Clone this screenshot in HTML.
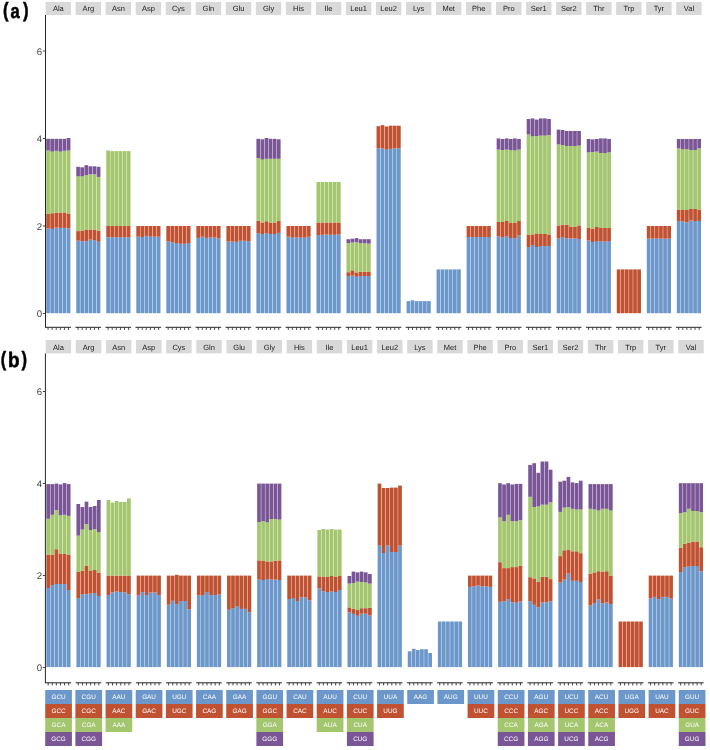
<!DOCTYPE html>
<html><head><meta charset="utf-8"><title>RSCU</title>
<style>
html,body{margin:0;padding:0;background:#fff;}
body{width:710px;height:750px;overflow:hidden;}
svg{display:block;}
text{font-family:"Liberation Sans",sans-serif;text-rendering:geometricPrecision;}
.st{font-size:7.5px;fill:#1a1a1a;text-anchor:middle;}
.yt{font-size:9.6px;fill:#444444;text-anchor:end;}
.cd{font-size:6.4px;fill:#ffffff;text-anchor:middle;}
.lab{font-size:22.5px;font-weight:bold;fill:#000;stroke:#000;stroke-width:0.55px;stroke-linejoin:round;}
.ax{stroke:#262626;stroke-width:1.0;}
.tk{stroke:#333;stroke-width:0.9;}
</style></head><body>
<svg width="710" height="750" viewBox="0 0 710 750" style="will-change:transform">
<rect width="710" height="750" fill="#ffffff"/>
<rect x="45.6" y="2" width="25.4" height="13" fill="#d9d9d9"/>
<text x="58.3" y="11.3" class="st">Ala</text>
<rect x="46.21" y="228.4" width="3.69" height="84.8" fill="#6c97ca"/>
<rect x="46.21" y="214" width="3.69" height="14.4" fill="#c05232"/>
<rect x="46.21" y="150.5" width="3.69" height="63.5" fill="#a3c66e"/>
<rect x="46.21" y="138.8" width="3.69" height="11.7" fill="#7a5696"/>
<rect x="50.31" y="228.9" width="3.69" height="84.3" fill="#6c97ca"/>
<rect x="50.31" y="213.2" width="3.69" height="15.7" fill="#c05232"/>
<rect x="50.31" y="151.6" width="3.69" height="61.6" fill="#a3c66e"/>
<rect x="50.31" y="138.8" width="3.69" height="12.8" fill="#7a5696"/>
<rect x="54.41" y="227.6" width="3.69" height="85.6" fill="#6c97ca"/>
<rect x="54.41" y="212.9" width="3.69" height="14.7" fill="#c05232"/>
<rect x="54.41" y="150.8" width="3.69" height="62.1" fill="#a3c66e"/>
<rect x="54.41" y="138.8" width="3.69" height="12" fill="#7a5696"/>
<rect x="58.5" y="227.9" width="3.69" height="85.3" fill="#6c97ca"/>
<rect x="58.5" y="212.9" width="3.69" height="15" fill="#c05232"/>
<rect x="58.5" y="151.6" width="3.69" height="61.3" fill="#a3c66e"/>
<rect x="58.5" y="138.8" width="3.69" height="12.8" fill="#7a5696"/>
<rect x="62.6" y="227.9" width="3.69" height="85.3" fill="#6c97ca"/>
<rect x="62.6" y="212.4" width="3.69" height="15.5" fill="#c05232"/>
<rect x="62.6" y="150.8" width="3.69" height="61.6" fill="#a3c66e"/>
<rect x="62.6" y="138.8" width="3.69" height="12" fill="#7a5696"/>
<rect x="66.7" y="228.4" width="3.69" height="84.8" fill="#6c97ca"/>
<rect x="66.7" y="214" width="3.69" height="14.4" fill="#c05232"/>
<rect x="66.7" y="150.5" width="3.69" height="63.5" fill="#a3c66e"/>
<rect x="66.7" y="138" width="3.69" height="12.5" fill="#7a5696"/>
<line x1="45.4" y1="327.3" x2="71" y2="327.3" class="ax"/>
<line x1="48.06" y1="327.3" x2="48.06" y2="329.9" class="tk"/>
<line x1="52.15" y1="327.3" x2="52.15" y2="329.9" class="tk"/>
<line x1="56.25" y1="327.3" x2="56.25" y2="329.9" class="tk"/>
<line x1="60.35" y1="327.3" x2="60.35" y2="329.9" class="tk"/>
<line x1="64.45" y1="327.3" x2="64.45" y2="329.9" class="tk"/>
<line x1="68.54" y1="327.3" x2="68.54" y2="329.9" class="tk"/>
<rect x="75.63" y="2" width="25.4" height="13" fill="#d9d9d9"/>
<text x="88.33" y="11.3" class="st">Arg</text>
<rect x="76.24" y="240.7" width="3.69" height="72.5" fill="#6c97ca"/>
<rect x="76.24" y="231.1" width="3.69" height="9.6" fill="#c05232"/>
<rect x="76.24" y="176.4" width="3.69" height="54.7" fill="#a3c66e"/>
<rect x="76.24" y="166.8" width="3.69" height="9.6" fill="#7a5696"/>
<rect x="80.34" y="241.2" width="3.69" height="72" fill="#6c97ca"/>
<rect x="80.34" y="230.5" width="3.69" height="10.7" fill="#c05232"/>
<rect x="80.34" y="176.4" width="3.69" height="54.1" fill="#a3c66e"/>
<rect x="80.34" y="167.3" width="3.69" height="9.1" fill="#7a5696"/>
<rect x="84.44" y="241.2" width="3.69" height="72" fill="#6c97ca"/>
<rect x="84.44" y="229.5" width="3.69" height="11.7" fill="#c05232"/>
<rect x="84.44" y="175.1" width="3.69" height="54.4" fill="#a3c66e"/>
<rect x="84.44" y="165.2" width="3.69" height="9.9" fill="#7a5696"/>
<rect x="88.53" y="239.6" width="3.69" height="73.6" fill="#6c97ca"/>
<rect x="88.53" y="229.5" width="3.69" height="10.1" fill="#c05232"/>
<rect x="88.53" y="174.3" width="3.69" height="55.2" fill="#a3c66e"/>
<rect x="88.53" y="166.3" width="3.69" height="8" fill="#7a5696"/>
<rect x="92.63" y="240.1" width="3.69" height="73.1" fill="#6c97ca"/>
<rect x="92.63" y="229.5" width="3.69" height="10.6" fill="#c05232"/>
<rect x="92.63" y="174.3" width="3.69" height="55.2" fill="#a3c66e"/>
<rect x="92.63" y="166.3" width="3.69" height="8" fill="#7a5696"/>
<rect x="96.73" y="241.7" width="3.69" height="71.5" fill="#6c97ca"/>
<rect x="96.73" y="230.8" width="3.69" height="10.9" fill="#c05232"/>
<rect x="96.73" y="176.9" width="3.69" height="53.9" fill="#a3c66e"/>
<rect x="96.73" y="166.8" width="3.69" height="10.1" fill="#7a5696"/>
<line x1="75.43" y1="327.3" x2="101.03" y2="327.3" class="ax"/>
<line x1="78.09" y1="327.3" x2="78.09" y2="329.9" class="tk"/>
<line x1="82.18" y1="327.3" x2="82.18" y2="329.9" class="tk"/>
<line x1="86.28" y1="327.3" x2="86.28" y2="329.9" class="tk"/>
<line x1="90.38" y1="327.3" x2="90.38" y2="329.9" class="tk"/>
<line x1="94.48" y1="327.3" x2="94.48" y2="329.9" class="tk"/>
<line x1="98.57" y1="327.3" x2="98.57" y2="329.9" class="tk"/>
<rect x="105.66" y="2" width="25.4" height="13" fill="#d9d9d9"/>
<text x="118.36" y="11.3" class="st">Asn</text>
<rect x="106.27" y="237.2" width="3.69" height="76" fill="#6c97ca"/>
<rect x="106.27" y="226" width="3.69" height="11.2" fill="#c05232"/>
<rect x="106.27" y="150.5" width="3.69" height="75.5" fill="#a3c66e"/>
<rect x="110.37" y="237.2" width="3.69" height="76" fill="#6c97ca"/>
<rect x="110.37" y="226" width="3.69" height="11.2" fill="#c05232"/>
<rect x="110.37" y="151.1" width="3.69" height="74.9" fill="#a3c66e"/>
<rect x="114.47" y="237.2" width="3.69" height="76" fill="#6c97ca"/>
<rect x="114.47" y="226" width="3.69" height="11.2" fill="#c05232"/>
<rect x="114.47" y="151.1" width="3.69" height="74.9" fill="#a3c66e"/>
<rect x="118.56" y="237.2" width="3.69" height="76" fill="#6c97ca"/>
<rect x="118.56" y="226" width="3.69" height="11.2" fill="#c05232"/>
<rect x="118.56" y="151.1" width="3.69" height="74.9" fill="#a3c66e"/>
<rect x="122.66" y="237.2" width="3.69" height="76" fill="#6c97ca"/>
<rect x="122.66" y="226" width="3.69" height="11.2" fill="#c05232"/>
<rect x="122.66" y="151.1" width="3.69" height="74.9" fill="#a3c66e"/>
<rect x="126.76" y="237.2" width="3.69" height="76" fill="#6c97ca"/>
<rect x="126.76" y="226" width="3.69" height="11.2" fill="#c05232"/>
<rect x="126.76" y="151.1" width="3.69" height="74.9" fill="#a3c66e"/>
<line x1="105.46" y1="327.3" x2="131.06" y2="327.3" class="ax"/>
<line x1="108.12" y1="327.3" x2="108.12" y2="329.9" class="tk"/>
<line x1="112.21" y1="327.3" x2="112.21" y2="329.9" class="tk"/>
<line x1="116.31" y1="327.3" x2="116.31" y2="329.9" class="tk"/>
<line x1="120.41" y1="327.3" x2="120.41" y2="329.9" class="tk"/>
<line x1="124.51" y1="327.3" x2="124.51" y2="329.9" class="tk"/>
<line x1="128.6" y1="327.3" x2="128.6" y2="329.9" class="tk"/>
<rect x="135.69" y="2" width="25.4" height="13" fill="#d9d9d9"/>
<text x="148.39" y="11.3" class="st">Asp</text>
<rect x="136.3" y="236.7" width="3.69" height="76.5" fill="#6c97ca"/>
<rect x="136.3" y="226" width="3.69" height="10.7" fill="#c05232"/>
<rect x="140.4" y="237" width="3.69" height="76.2" fill="#6c97ca"/>
<rect x="140.4" y="226" width="3.69" height="11" fill="#c05232"/>
<rect x="144.5" y="235.9" width="3.69" height="77.3" fill="#6c97ca"/>
<rect x="144.5" y="226" width="3.69" height="9.9" fill="#c05232"/>
<rect x="148.59" y="236.7" width="3.69" height="76.5" fill="#6c97ca"/>
<rect x="148.59" y="226" width="3.69" height="10.7" fill="#c05232"/>
<rect x="152.69" y="236.7" width="3.69" height="76.5" fill="#6c97ca"/>
<rect x="152.69" y="226" width="3.69" height="10.7" fill="#c05232"/>
<rect x="156.79" y="236.7" width="3.69" height="76.5" fill="#6c97ca"/>
<rect x="156.79" y="226" width="3.69" height="10.7" fill="#c05232"/>
<line x1="135.49" y1="327.3" x2="161.09" y2="327.3" class="ax"/>
<line x1="138.15" y1="327.3" x2="138.15" y2="329.9" class="tk"/>
<line x1="142.24" y1="327.3" x2="142.24" y2="329.9" class="tk"/>
<line x1="146.34" y1="327.3" x2="146.34" y2="329.9" class="tk"/>
<line x1="150.44" y1="327.3" x2="150.44" y2="329.9" class="tk"/>
<line x1="154.54" y1="327.3" x2="154.54" y2="329.9" class="tk"/>
<line x1="158.63" y1="327.3" x2="158.63" y2="329.9" class="tk"/>
<rect x="165.72" y="2" width="25.4" height="13" fill="#d9d9d9"/>
<text x="178.42" y="11.3" class="st">Cys</text>
<rect x="166.33" y="241.6" width="3.69" height="71.6" fill="#6c97ca"/>
<rect x="166.33" y="226" width="3.69" height="15.6" fill="#c05232"/>
<rect x="170.43" y="242.3" width="3.69" height="70.9" fill="#6c97ca"/>
<rect x="170.43" y="226" width="3.69" height="16.3" fill="#c05232"/>
<rect x="174.53" y="243" width="3.69" height="70.2" fill="#6c97ca"/>
<rect x="174.53" y="226" width="3.69" height="17" fill="#c05232"/>
<rect x="178.62" y="243.8" width="3.69" height="69.4" fill="#6c97ca"/>
<rect x="178.62" y="226" width="3.69" height="17.8" fill="#c05232"/>
<rect x="182.72" y="243.8" width="3.69" height="69.4" fill="#6c97ca"/>
<rect x="182.72" y="226" width="3.69" height="17.8" fill="#c05232"/>
<rect x="186.82" y="243" width="3.69" height="70.2" fill="#6c97ca"/>
<rect x="186.82" y="226" width="3.69" height="17" fill="#c05232"/>
<line x1="165.52" y1="327.3" x2="191.12" y2="327.3" class="ax"/>
<line x1="168.18" y1="327.3" x2="168.18" y2="329.9" class="tk"/>
<line x1="172.27" y1="327.3" x2="172.27" y2="329.9" class="tk"/>
<line x1="176.37" y1="327.3" x2="176.37" y2="329.9" class="tk"/>
<line x1="180.47" y1="327.3" x2="180.47" y2="329.9" class="tk"/>
<line x1="184.57" y1="327.3" x2="184.57" y2="329.9" class="tk"/>
<line x1="188.66" y1="327.3" x2="188.66" y2="329.9" class="tk"/>
<rect x="195.75" y="2" width="25.4" height="13" fill="#d9d9d9"/>
<text x="208.45" y="11.3" class="st">Gln</text>
<rect x="196.36" y="237.9" width="3.69" height="75.3" fill="#6c97ca"/>
<rect x="196.36" y="226" width="3.69" height="11.9" fill="#c05232"/>
<rect x="200.46" y="236.7" width="3.69" height="76.5" fill="#6c97ca"/>
<rect x="200.46" y="226" width="3.69" height="10.7" fill="#c05232"/>
<rect x="204.56" y="237.9" width="3.69" height="75.3" fill="#6c97ca"/>
<rect x="204.56" y="226" width="3.69" height="11.9" fill="#c05232"/>
<rect x="208.65" y="237.5" width="3.69" height="75.7" fill="#6c97ca"/>
<rect x="208.65" y="226" width="3.69" height="11.5" fill="#c05232"/>
<rect x="212.75" y="237.5" width="3.69" height="75.7" fill="#6c97ca"/>
<rect x="212.75" y="226" width="3.69" height="11.5" fill="#c05232"/>
<rect x="216.85" y="238.4" width="3.69" height="74.8" fill="#6c97ca"/>
<rect x="216.85" y="226" width="3.69" height="12.4" fill="#c05232"/>
<line x1="195.55" y1="327.3" x2="221.15" y2="327.3" class="ax"/>
<line x1="198.21" y1="327.3" x2="198.21" y2="329.9" class="tk"/>
<line x1="202.3" y1="327.3" x2="202.3" y2="329.9" class="tk"/>
<line x1="206.4" y1="327.3" x2="206.4" y2="329.9" class="tk"/>
<line x1="210.5" y1="327.3" x2="210.5" y2="329.9" class="tk"/>
<line x1="214.6" y1="327.3" x2="214.6" y2="329.9" class="tk"/>
<line x1="218.69" y1="327.3" x2="218.69" y2="329.9" class="tk"/>
<rect x="225.78" y="2" width="25.4" height="13" fill="#d9d9d9"/>
<text x="238.48" y="11.3" class="st">Glu</text>
<rect x="226.39" y="241.6" width="3.69" height="71.6" fill="#6c97ca"/>
<rect x="226.39" y="226" width="3.69" height="15.6" fill="#c05232"/>
<rect x="230.49" y="241.6" width="3.69" height="71.6" fill="#6c97ca"/>
<rect x="230.49" y="226" width="3.69" height="15.6" fill="#c05232"/>
<rect x="234.59" y="241.9" width="3.69" height="71.3" fill="#6c97ca"/>
<rect x="234.59" y="226" width="3.69" height="15.9" fill="#c05232"/>
<rect x="238.68" y="240.8" width="3.69" height="72.4" fill="#6c97ca"/>
<rect x="238.68" y="226" width="3.69" height="14.8" fill="#c05232"/>
<rect x="242.78" y="240.8" width="3.69" height="72.4" fill="#6c97ca"/>
<rect x="242.78" y="226" width="3.69" height="14.8" fill="#c05232"/>
<rect x="246.88" y="241.3" width="3.69" height="71.9" fill="#6c97ca"/>
<rect x="246.88" y="226" width="3.69" height="15.3" fill="#c05232"/>
<line x1="225.58" y1="327.3" x2="251.18" y2="327.3" class="ax"/>
<line x1="228.24" y1="327.3" x2="228.24" y2="329.9" class="tk"/>
<line x1="232.33" y1="327.3" x2="232.33" y2="329.9" class="tk"/>
<line x1="236.43" y1="327.3" x2="236.43" y2="329.9" class="tk"/>
<line x1="240.53" y1="327.3" x2="240.53" y2="329.9" class="tk"/>
<line x1="244.63" y1="327.3" x2="244.63" y2="329.9" class="tk"/>
<line x1="248.72" y1="327.3" x2="248.72" y2="329.9" class="tk"/>
<rect x="255.81" y="2" width="25.4" height="13" fill="#d9d9d9"/>
<text x="268.51" y="11.3" class="st">Gly</text>
<rect x="256.42" y="233.2" width="3.69" height="80" fill="#6c97ca"/>
<rect x="256.42" y="220.9" width="3.69" height="12.3" fill="#c05232"/>
<rect x="256.42" y="158" width="3.69" height="62.9" fill="#a3c66e"/>
<rect x="256.42" y="138.8" width="3.69" height="19.2" fill="#7a5696"/>
<rect x="260.52" y="234" width="3.69" height="79.2" fill="#6c97ca"/>
<rect x="260.52" y="222.5" width="3.69" height="11.5" fill="#c05232"/>
<rect x="260.52" y="159.6" width="3.69" height="62.9" fill="#a3c66e"/>
<rect x="260.52" y="139.3" width="3.69" height="20.3" fill="#7a5696"/>
<rect x="264.62" y="233.2" width="3.69" height="80" fill="#6c97ca"/>
<rect x="264.62" y="221.2" width="3.69" height="12" fill="#c05232"/>
<rect x="264.62" y="158.8" width="3.69" height="62.4" fill="#a3c66e"/>
<rect x="264.62" y="138" width="3.69" height="20.8" fill="#7a5696"/>
<rect x="268.71" y="234" width="3.69" height="79.2" fill="#6c97ca"/>
<rect x="268.71" y="222.5" width="3.69" height="11.5" fill="#c05232"/>
<rect x="268.71" y="158.8" width="3.69" height="63.7" fill="#a3c66e"/>
<rect x="268.71" y="138.8" width="3.69" height="20" fill="#7a5696"/>
<rect x="272.81" y="234" width="3.69" height="79.2" fill="#6c97ca"/>
<rect x="272.81" y="222.5" width="3.69" height="11.5" fill="#c05232"/>
<rect x="272.81" y="158.8" width="3.69" height="63.7" fill="#a3c66e"/>
<rect x="272.81" y="138.8" width="3.69" height="20" fill="#7a5696"/>
<rect x="276.91" y="232.9" width="3.69" height="80.3" fill="#6c97ca"/>
<rect x="276.91" y="220.9" width="3.69" height="12" fill="#c05232"/>
<rect x="276.91" y="158.8" width="3.69" height="62.1" fill="#a3c66e"/>
<rect x="276.91" y="139.3" width="3.69" height="19.5" fill="#7a5696"/>
<line x1="255.61" y1="327.3" x2="281.21" y2="327.3" class="ax"/>
<line x1="258.27" y1="327.3" x2="258.27" y2="329.9" class="tk"/>
<line x1="262.36" y1="327.3" x2="262.36" y2="329.9" class="tk"/>
<line x1="266.46" y1="327.3" x2="266.46" y2="329.9" class="tk"/>
<line x1="270.56" y1="327.3" x2="270.56" y2="329.9" class="tk"/>
<line x1="274.66" y1="327.3" x2="274.66" y2="329.9" class="tk"/>
<line x1="278.75" y1="327.3" x2="278.75" y2="329.9" class="tk"/>
<rect x="285.84" y="2" width="25.4" height="13" fill="#d9d9d9"/>
<text x="298.54" y="11.3" class="st">His</text>
<rect x="286.45" y="236.7" width="3.69" height="76.5" fill="#6c97ca"/>
<rect x="286.45" y="226" width="3.69" height="10.7" fill="#c05232"/>
<rect x="290.55" y="237.7" width="3.69" height="75.5" fill="#6c97ca"/>
<rect x="290.55" y="226" width="3.69" height="11.7" fill="#c05232"/>
<rect x="294.65" y="237.2" width="3.69" height="76" fill="#6c97ca"/>
<rect x="294.65" y="226" width="3.69" height="11.2" fill="#c05232"/>
<rect x="298.74" y="237.7" width="3.69" height="75.5" fill="#6c97ca"/>
<rect x="298.74" y="226" width="3.69" height="11.7" fill="#c05232"/>
<rect x="302.84" y="237.7" width="3.69" height="75.5" fill="#6c97ca"/>
<rect x="302.84" y="226" width="3.69" height="11.7" fill="#c05232"/>
<rect x="306.94" y="236.7" width="3.69" height="76.5" fill="#6c97ca"/>
<rect x="306.94" y="226" width="3.69" height="10.7" fill="#c05232"/>
<line x1="285.64" y1="327.3" x2="311.24" y2="327.3" class="ax"/>
<line x1="288.3" y1="327.3" x2="288.3" y2="329.9" class="tk"/>
<line x1="292.39" y1="327.3" x2="292.39" y2="329.9" class="tk"/>
<line x1="296.49" y1="327.3" x2="296.49" y2="329.9" class="tk"/>
<line x1="300.59" y1="327.3" x2="300.59" y2="329.9" class="tk"/>
<line x1="304.69" y1="327.3" x2="304.69" y2="329.9" class="tk"/>
<line x1="308.78" y1="327.3" x2="308.78" y2="329.9" class="tk"/>
<rect x="315.87" y="2" width="25.4" height="13" fill="#d9d9d9"/>
<text x="328.57" y="11.3" class="st">Ile</text>
<rect x="316.48" y="235.1" width="3.69" height="78.1" fill="#6c97ca"/>
<rect x="316.48" y="222.5" width="3.69" height="12.6" fill="#c05232"/>
<rect x="316.48" y="182" width="3.69" height="40.5" fill="#a3c66e"/>
<rect x="320.58" y="234.8" width="3.69" height="78.4" fill="#6c97ca"/>
<rect x="320.58" y="222.5" width="3.69" height="12.3" fill="#c05232"/>
<rect x="320.58" y="182" width="3.69" height="40.5" fill="#a3c66e"/>
<rect x="324.68" y="234.5" width="3.69" height="78.7" fill="#6c97ca"/>
<rect x="324.68" y="222.5" width="3.69" height="12" fill="#c05232"/>
<rect x="324.68" y="182" width="3.69" height="40.5" fill="#a3c66e"/>
<rect x="328.77" y="234.8" width="3.69" height="78.4" fill="#6c97ca"/>
<rect x="328.77" y="222.5" width="3.69" height="12.3" fill="#c05232"/>
<rect x="328.77" y="182" width="3.69" height="40.5" fill="#a3c66e"/>
<rect x="332.87" y="234.8" width="3.69" height="78.4" fill="#6c97ca"/>
<rect x="332.87" y="222.5" width="3.69" height="12.3" fill="#c05232"/>
<rect x="332.87" y="182" width="3.69" height="40.5" fill="#a3c66e"/>
<rect x="336.97" y="234.5" width="3.69" height="78.7" fill="#6c97ca"/>
<rect x="336.97" y="222.5" width="3.69" height="12" fill="#c05232"/>
<rect x="336.97" y="182" width="3.69" height="40.5" fill="#a3c66e"/>
<line x1="315.67" y1="327.3" x2="341.27" y2="327.3" class="ax"/>
<line x1="318.33" y1="327.3" x2="318.33" y2="329.9" class="tk"/>
<line x1="322.42" y1="327.3" x2="322.42" y2="329.9" class="tk"/>
<line x1="326.52" y1="327.3" x2="326.52" y2="329.9" class="tk"/>
<line x1="330.62" y1="327.3" x2="330.62" y2="329.9" class="tk"/>
<line x1="334.72" y1="327.3" x2="334.72" y2="329.9" class="tk"/>
<line x1="338.81" y1="327.3" x2="338.81" y2="329.9" class="tk"/>
<rect x="345.9" y="2" width="25.4" height="13" fill="#d9d9d9"/>
<text x="358.6" y="11.3" class="st">Leu1</text>
<rect x="346.51" y="276" width="3.69" height="37.2" fill="#6c97ca"/>
<rect x="346.51" y="272.2" width="3.69" height="3.8" fill="#c05232"/>
<rect x="346.51" y="243.2" width="3.69" height="29" fill="#a3c66e"/>
<rect x="346.51" y="239.2" width="3.69" height="4" fill="#7a5696"/>
<rect x="350.61" y="275.6" width="3.69" height="37.6" fill="#6c97ca"/>
<rect x="350.61" y="270.3" width="3.69" height="5.3" fill="#c05232"/>
<rect x="350.61" y="242.5" width="3.69" height="27.8" fill="#a3c66e"/>
<rect x="350.61" y="238.7" width="3.69" height="3.8" fill="#7a5696"/>
<rect x="354.71" y="276.8" width="3.69" height="36.4" fill="#6c97ca"/>
<rect x="354.71" y="272.4" width="3.69" height="4.4" fill="#c05232"/>
<rect x="354.71" y="242.1" width="3.69" height="30.3" fill="#a3c66e"/>
<rect x="354.71" y="238.1" width="3.69" height="4" fill="#7a5696"/>
<rect x="358.8" y="276" width="3.69" height="37.2" fill="#6c97ca"/>
<rect x="358.8" y="271.9" width="3.69" height="4.1" fill="#c05232"/>
<rect x="358.8" y="243.2" width="3.69" height="28.7" fill="#a3c66e"/>
<rect x="358.8" y="239.2" width="3.69" height="4" fill="#7a5696"/>
<rect x="362.9" y="276" width="3.69" height="37.2" fill="#6c97ca"/>
<rect x="362.9" y="271.9" width="3.69" height="4.1" fill="#c05232"/>
<rect x="362.9" y="243.2" width="3.69" height="28.7" fill="#a3c66e"/>
<rect x="362.9" y="239.2" width="3.69" height="4" fill="#7a5696"/>
<rect x="367" y="276" width="3.69" height="37.2" fill="#6c97ca"/>
<rect x="367" y="271.9" width="3.69" height="4.1" fill="#c05232"/>
<rect x="367" y="243.6" width="3.69" height="28.3" fill="#a3c66e"/>
<rect x="367" y="239.2" width="3.69" height="4.4" fill="#7a5696"/>
<line x1="345.7" y1="327.3" x2="371.3" y2="327.3" class="ax"/>
<line x1="348.36" y1="327.3" x2="348.36" y2="329.9" class="tk"/>
<line x1="352.45" y1="327.3" x2="352.45" y2="329.9" class="tk"/>
<line x1="356.55" y1="327.3" x2="356.55" y2="329.9" class="tk"/>
<line x1="360.65" y1="327.3" x2="360.65" y2="329.9" class="tk"/>
<line x1="364.75" y1="327.3" x2="364.75" y2="329.9" class="tk"/>
<line x1="368.84" y1="327.3" x2="368.84" y2="329.9" class="tk"/>
<rect x="375.93" y="2" width="25.4" height="13" fill="#d9d9d9"/>
<text x="388.63" y="11.3" class="st">Leu2</text>
<rect x="376.54" y="148.3" width="3.69" height="164.9" fill="#6c97ca"/>
<rect x="376.54" y="126.2" width="3.69" height="22.1" fill="#c05232"/>
<rect x="380.64" y="148.3" width="3.69" height="164.9" fill="#6c97ca"/>
<rect x="380.64" y="125.1" width="3.69" height="23.2" fill="#c05232"/>
<rect x="384.74" y="149.7" width="3.69" height="163.5" fill="#6c97ca"/>
<rect x="384.74" y="126.5" width="3.69" height="23.2" fill="#c05232"/>
<rect x="388.83" y="148.9" width="3.69" height="164.3" fill="#6c97ca"/>
<rect x="388.83" y="125.7" width="3.69" height="23.2" fill="#c05232"/>
<rect x="392.93" y="148.3" width="3.69" height="164.9" fill="#6c97ca"/>
<rect x="392.93" y="125.7" width="3.69" height="22.6" fill="#c05232"/>
<rect x="397.03" y="148.3" width="3.69" height="164.9" fill="#6c97ca"/>
<rect x="397.03" y="125.7" width="3.69" height="22.6" fill="#c05232"/>
<line x1="375.73" y1="327.3" x2="401.33" y2="327.3" class="ax"/>
<line x1="378.39" y1="327.3" x2="378.39" y2="329.9" class="tk"/>
<line x1="382.48" y1="327.3" x2="382.48" y2="329.9" class="tk"/>
<line x1="386.58" y1="327.3" x2="386.58" y2="329.9" class="tk"/>
<line x1="390.68" y1="327.3" x2="390.68" y2="329.9" class="tk"/>
<line x1="394.78" y1="327.3" x2="394.78" y2="329.9" class="tk"/>
<line x1="398.87" y1="327.3" x2="398.87" y2="329.9" class="tk"/>
<rect x="405.96" y="2" width="25.4" height="13" fill="#d9d9d9"/>
<text x="418.66" y="11.3" class="st">Lys</text>
<rect x="406.57" y="301.1" width="3.69" height="12.1" fill="#6c97ca"/>
<rect x="410.67" y="300.3" width="3.69" height="12.9" fill="#6c97ca"/>
<rect x="414.77" y="301.1" width="3.69" height="12.1" fill="#6c97ca"/>
<rect x="418.86" y="301.1" width="3.69" height="12.1" fill="#6c97ca"/>
<rect x="422.96" y="301.1" width="3.69" height="12.1" fill="#6c97ca"/>
<rect x="427.06" y="301.1" width="3.69" height="12.1" fill="#6c97ca"/>
<line x1="405.76" y1="327.3" x2="431.36" y2="327.3" class="ax"/>
<line x1="408.42" y1="327.3" x2="408.42" y2="329.9" class="tk"/>
<line x1="412.51" y1="327.3" x2="412.51" y2="329.9" class="tk"/>
<line x1="416.61" y1="327.3" x2="416.61" y2="329.9" class="tk"/>
<line x1="420.71" y1="327.3" x2="420.71" y2="329.9" class="tk"/>
<line x1="424.81" y1="327.3" x2="424.81" y2="329.9" class="tk"/>
<line x1="428.9" y1="327.3" x2="428.9" y2="329.9" class="tk"/>
<rect x="435.99" y="2" width="25.4" height="13" fill="#d9d9d9"/>
<text x="448.69" y="11.3" class="st">Met</text>
<rect x="436.6" y="269.4" width="3.69" height="43.8" fill="#6c97ca"/>
<rect x="440.7" y="269.4" width="3.69" height="43.8" fill="#6c97ca"/>
<rect x="444.8" y="269.4" width="3.69" height="43.8" fill="#6c97ca"/>
<rect x="448.89" y="269.4" width="3.69" height="43.8" fill="#6c97ca"/>
<rect x="452.99" y="269.4" width="3.69" height="43.8" fill="#6c97ca"/>
<rect x="457.09" y="269.4" width="3.69" height="43.8" fill="#6c97ca"/>
<line x1="435.79" y1="327.3" x2="461.39" y2="327.3" class="ax"/>
<line x1="438.45" y1="327.3" x2="438.45" y2="329.9" class="tk"/>
<line x1="442.54" y1="327.3" x2="442.54" y2="329.9" class="tk"/>
<line x1="446.64" y1="327.3" x2="446.64" y2="329.9" class="tk"/>
<line x1="450.74" y1="327.3" x2="450.74" y2="329.9" class="tk"/>
<line x1="454.84" y1="327.3" x2="454.84" y2="329.9" class="tk"/>
<line x1="458.93" y1="327.3" x2="458.93" y2="329.9" class="tk"/>
<rect x="466.02" y="2" width="25.4" height="13" fill="#d9d9d9"/>
<text x="478.72" y="11.3" class="st">Phe</text>
<rect x="466.63" y="237" width="3.69" height="76.2" fill="#6c97ca"/>
<rect x="466.63" y="226" width="3.69" height="11" fill="#c05232"/>
<rect x="470.73" y="237" width="3.69" height="76.2" fill="#6c97ca"/>
<rect x="470.73" y="226" width="3.69" height="11" fill="#c05232"/>
<rect x="474.83" y="237" width="3.69" height="76.2" fill="#6c97ca"/>
<rect x="474.83" y="226" width="3.69" height="11" fill="#c05232"/>
<rect x="478.92" y="237" width="3.69" height="76.2" fill="#6c97ca"/>
<rect x="478.92" y="226" width="3.69" height="11" fill="#c05232"/>
<rect x="483.02" y="237" width="3.69" height="76.2" fill="#6c97ca"/>
<rect x="483.02" y="226" width="3.69" height="11" fill="#c05232"/>
<rect x="487.12" y="237" width="3.69" height="76.2" fill="#6c97ca"/>
<rect x="487.12" y="226" width="3.69" height="11" fill="#c05232"/>
<line x1="465.82" y1="327.3" x2="491.42" y2="327.3" class="ax"/>
<line x1="468.48" y1="327.3" x2="468.48" y2="329.9" class="tk"/>
<line x1="472.57" y1="327.3" x2="472.57" y2="329.9" class="tk"/>
<line x1="476.67" y1="327.3" x2="476.67" y2="329.9" class="tk"/>
<line x1="480.77" y1="327.3" x2="480.77" y2="329.9" class="tk"/>
<line x1="484.87" y1="327.3" x2="484.87" y2="329.9" class="tk"/>
<line x1="488.96" y1="327.3" x2="488.96" y2="329.9" class="tk"/>
<rect x="496.05" y="2" width="25.4" height="13" fill="#d9d9d9"/>
<text x="508.75" y="11.3" class="st">Pro</text>
<rect x="496.66" y="236.4" width="3.69" height="76.8" fill="#6c97ca"/>
<rect x="496.66" y="222" width="3.69" height="14.4" fill="#c05232"/>
<rect x="496.66" y="149.6" width="3.69" height="72.4" fill="#a3c66e"/>
<rect x="496.66" y="138.4" width="3.69" height="11.2" fill="#7a5696"/>
<rect x="500.76" y="237.6" width="3.69" height="75.6" fill="#6c97ca"/>
<rect x="500.76" y="222" width="3.69" height="15.6" fill="#c05232"/>
<rect x="500.76" y="150" width="3.69" height="72" fill="#a3c66e"/>
<rect x="500.76" y="139" width="3.69" height="11" fill="#7a5696"/>
<rect x="504.86" y="236" width="3.69" height="77.2" fill="#6c97ca"/>
<rect x="504.86" y="221" width="3.69" height="15" fill="#c05232"/>
<rect x="504.86" y="149.6" width="3.69" height="71.4" fill="#a3c66e"/>
<rect x="504.86" y="138.4" width="3.69" height="11.2" fill="#7a5696"/>
<rect x="508.95" y="238" width="3.69" height="75.2" fill="#6c97ca"/>
<rect x="508.95" y="223" width="3.69" height="15" fill="#c05232"/>
<rect x="508.95" y="150" width="3.69" height="73" fill="#a3c66e"/>
<rect x="508.95" y="139" width="3.69" height="11" fill="#7a5696"/>
<rect x="513.05" y="238.4" width="3.69" height="74.8" fill="#6c97ca"/>
<rect x="513.05" y="223" width="3.69" height="15.4" fill="#c05232"/>
<rect x="513.05" y="150.4" width="3.69" height="72.6" fill="#a3c66e"/>
<rect x="513.05" y="138.4" width="3.69" height="12" fill="#7a5696"/>
<rect x="517.15" y="235.6" width="3.69" height="77.6" fill="#6c97ca"/>
<rect x="517.15" y="221" width="3.69" height="14.6" fill="#c05232"/>
<rect x="517.15" y="149.6" width="3.69" height="71.4" fill="#a3c66e"/>
<rect x="517.15" y="139" width="3.69" height="10.6" fill="#7a5696"/>
<line x1="495.85" y1="327.3" x2="521.45" y2="327.3" class="ax"/>
<line x1="498.51" y1="327.3" x2="498.51" y2="329.9" class="tk"/>
<line x1="502.6" y1="327.3" x2="502.6" y2="329.9" class="tk"/>
<line x1="506.7" y1="327.3" x2="506.7" y2="329.9" class="tk"/>
<line x1="510.8" y1="327.3" x2="510.8" y2="329.9" class="tk"/>
<line x1="514.9" y1="327.3" x2="514.9" y2="329.9" class="tk"/>
<line x1="518.99" y1="327.3" x2="518.99" y2="329.9" class="tk"/>
<rect x="526.08" y="2" width="25.4" height="13" fill="#d9d9d9"/>
<text x="538.78" y="11.3" class="st">Ser1</text>
<rect x="526.69" y="247" width="3.69" height="66.2" fill="#6c97ca"/>
<rect x="526.69" y="235" width="3.69" height="12" fill="#c05232"/>
<rect x="526.69" y="134.4" width="3.69" height="100.6" fill="#a3c66e"/>
<rect x="526.69" y="119" width="3.69" height="15.4" fill="#7a5696"/>
<rect x="530.79" y="245" width="3.69" height="68.2" fill="#6c97ca"/>
<rect x="530.79" y="234.4" width="3.69" height="10.6" fill="#c05232"/>
<rect x="530.79" y="136.4" width="3.69" height="98" fill="#a3c66e"/>
<rect x="530.79" y="118.4" width="3.69" height="18" fill="#7a5696"/>
<rect x="534.89" y="247" width="3.69" height="66.2" fill="#6c97ca"/>
<rect x="534.89" y="233.4" width="3.69" height="13.6" fill="#c05232"/>
<rect x="534.89" y="136" width="3.69" height="97.4" fill="#a3c66e"/>
<rect x="534.89" y="119.6" width="3.69" height="16.4" fill="#7a5696"/>
<rect x="538.98" y="246" width="3.69" height="67.2" fill="#6c97ca"/>
<rect x="538.98" y="234" width="3.69" height="12" fill="#c05232"/>
<rect x="538.98" y="135.6" width="3.69" height="98.4" fill="#a3c66e"/>
<rect x="538.98" y="118.4" width="3.69" height="17.2" fill="#7a5696"/>
<rect x="543.08" y="246" width="3.69" height="67.2" fill="#6c97ca"/>
<rect x="543.08" y="234" width="3.69" height="12" fill="#c05232"/>
<rect x="543.08" y="135.6" width="3.69" height="98.4" fill="#a3c66e"/>
<rect x="543.08" y="118.4" width="3.69" height="17.2" fill="#7a5696"/>
<rect x="547.18" y="246" width="3.69" height="67.2" fill="#6c97ca"/>
<rect x="547.18" y="234.4" width="3.69" height="11.6" fill="#c05232"/>
<rect x="547.18" y="135" width="3.69" height="99.4" fill="#a3c66e"/>
<rect x="547.18" y="119" width="3.69" height="16" fill="#7a5696"/>
<line x1="525.88" y1="327.3" x2="551.48" y2="327.3" class="ax"/>
<line x1="528.54" y1="327.3" x2="528.54" y2="329.9" class="tk"/>
<line x1="532.63" y1="327.3" x2="532.63" y2="329.9" class="tk"/>
<line x1="536.73" y1="327.3" x2="536.73" y2="329.9" class="tk"/>
<line x1="540.83" y1="327.3" x2="540.83" y2="329.9" class="tk"/>
<line x1="544.93" y1="327.3" x2="544.93" y2="329.9" class="tk"/>
<line x1="549.02" y1="327.3" x2="549.02" y2="329.9" class="tk"/>
<rect x="556.11" y="2" width="25.4" height="13" fill="#d9d9d9"/>
<text x="568.81" y="11.3" class="st">Ser2</text>
<rect x="556.72" y="238.6" width="3.69" height="74.6" fill="#6c97ca"/>
<rect x="556.72" y="225.4" width="3.69" height="13.2" fill="#c05232"/>
<rect x="556.72" y="144.4" width="3.69" height="81" fill="#a3c66e"/>
<rect x="556.72" y="129.6" width="3.69" height="14.8" fill="#7a5696"/>
<rect x="560.82" y="237" width="3.69" height="76.2" fill="#6c97ca"/>
<rect x="560.82" y="224.6" width="3.69" height="12.4" fill="#c05232"/>
<rect x="560.82" y="145" width="3.69" height="79.6" fill="#a3c66e"/>
<rect x="560.82" y="130" width="3.69" height="15" fill="#7a5696"/>
<rect x="564.92" y="238.4" width="3.69" height="74.8" fill="#6c97ca"/>
<rect x="564.92" y="224.6" width="3.69" height="13.8" fill="#c05232"/>
<rect x="564.92" y="146" width="3.69" height="78.6" fill="#a3c66e"/>
<rect x="564.92" y="131" width="3.69" height="15" fill="#7a5696"/>
<rect x="569.01" y="238.4" width="3.69" height="74.8" fill="#6c97ca"/>
<rect x="569.01" y="227" width="3.69" height="11.4" fill="#c05232"/>
<rect x="569.01" y="146" width="3.69" height="81" fill="#a3c66e"/>
<rect x="569.01" y="131" width="3.69" height="15" fill="#7a5696"/>
<rect x="573.11" y="238.4" width="3.69" height="74.8" fill="#6c97ca"/>
<rect x="573.11" y="227" width="3.69" height="11.4" fill="#c05232"/>
<rect x="573.11" y="146" width="3.69" height="81" fill="#a3c66e"/>
<rect x="573.11" y="131" width="3.69" height="15" fill="#7a5696"/>
<rect x="577.21" y="239" width="3.69" height="74.2" fill="#6c97ca"/>
<rect x="577.21" y="225.4" width="3.69" height="13.6" fill="#c05232"/>
<rect x="577.21" y="145.6" width="3.69" height="79.8" fill="#a3c66e"/>
<rect x="577.21" y="131" width="3.69" height="14.6" fill="#7a5696"/>
<line x1="555.91" y1="327.3" x2="581.51" y2="327.3" class="ax"/>
<line x1="558.57" y1="327.3" x2="558.57" y2="329.9" class="tk"/>
<line x1="562.66" y1="327.3" x2="562.66" y2="329.9" class="tk"/>
<line x1="566.76" y1="327.3" x2="566.76" y2="329.9" class="tk"/>
<line x1="570.86" y1="327.3" x2="570.86" y2="329.9" class="tk"/>
<line x1="574.96" y1="327.3" x2="574.96" y2="329.9" class="tk"/>
<line x1="579.05" y1="327.3" x2="579.05" y2="329.9" class="tk"/>
<rect x="586.14" y="2" width="25.4" height="13" fill="#d9d9d9"/>
<text x="598.84" y="11.3" class="st">Thr</text>
<rect x="586.75" y="240.4" width="3.69" height="72.8" fill="#6c97ca"/>
<rect x="586.75" y="228" width="3.69" height="12.4" fill="#c05232"/>
<rect x="586.75" y="152.4" width="3.69" height="75.6" fill="#a3c66e"/>
<rect x="586.75" y="139" width="3.69" height="13.4" fill="#7a5696"/>
<rect x="590.85" y="242" width="3.69" height="71.2" fill="#6c97ca"/>
<rect x="590.85" y="228.6" width="3.69" height="13.4" fill="#c05232"/>
<rect x="590.85" y="152" width="3.69" height="76.6" fill="#a3c66e"/>
<rect x="590.85" y="139.4" width="3.69" height="12.6" fill="#7a5696"/>
<rect x="594.95" y="241" width="3.69" height="72.2" fill="#6c97ca"/>
<rect x="594.95" y="227" width="3.69" height="14" fill="#c05232"/>
<rect x="594.95" y="151.6" width="3.69" height="75.4" fill="#a3c66e"/>
<rect x="594.95" y="139" width="3.69" height="12.6" fill="#7a5696"/>
<rect x="599.04" y="241.6" width="3.69" height="71.6" fill="#6c97ca"/>
<rect x="599.04" y="228" width="3.69" height="13.6" fill="#c05232"/>
<rect x="599.04" y="153" width="3.69" height="75" fill="#a3c66e"/>
<rect x="599.04" y="138.4" width="3.69" height="14.6" fill="#7a5696"/>
<rect x="603.14" y="241.6" width="3.69" height="71.6" fill="#6c97ca"/>
<rect x="603.14" y="228" width="3.69" height="13.6" fill="#c05232"/>
<rect x="603.14" y="153" width="3.69" height="75" fill="#a3c66e"/>
<rect x="603.14" y="138.4" width="3.69" height="14.6" fill="#7a5696"/>
<rect x="607.24" y="241" width="3.69" height="72.2" fill="#6c97ca"/>
<rect x="607.24" y="228" width="3.69" height="13" fill="#c05232"/>
<rect x="607.24" y="152.4" width="3.69" height="75.6" fill="#a3c66e"/>
<rect x="607.24" y="139" width="3.69" height="13.4" fill="#7a5696"/>
<line x1="585.94" y1="327.3" x2="611.54" y2="327.3" class="ax"/>
<line x1="588.6" y1="327.3" x2="588.6" y2="329.9" class="tk"/>
<line x1="592.69" y1="327.3" x2="592.69" y2="329.9" class="tk"/>
<line x1="596.79" y1="327.3" x2="596.79" y2="329.9" class="tk"/>
<line x1="600.89" y1="327.3" x2="600.89" y2="329.9" class="tk"/>
<line x1="604.99" y1="327.3" x2="604.99" y2="329.9" class="tk"/>
<line x1="609.08" y1="327.3" x2="609.08" y2="329.9" class="tk"/>
<rect x="616.17" y="2" width="25.4" height="13" fill="#d9d9d9"/>
<text x="628.87" y="11.3" class="st">Trp</text>
<rect x="616.78" y="269.4" width="3.69" height="43.8" fill="#c05232"/>
<rect x="620.88" y="269.4" width="3.69" height="43.8" fill="#c05232"/>
<rect x="624.98" y="269.4" width="3.69" height="43.8" fill="#c05232"/>
<rect x="629.07" y="269.4" width="3.69" height="43.8" fill="#c05232"/>
<rect x="633.17" y="269.4" width="3.69" height="43.8" fill="#c05232"/>
<rect x="637.27" y="269.4" width="3.69" height="43.8" fill="#c05232"/>
<line x1="615.97" y1="327.3" x2="641.57" y2="327.3" class="ax"/>
<line x1="618.63" y1="327.3" x2="618.63" y2="329.9" class="tk"/>
<line x1="622.72" y1="327.3" x2="622.72" y2="329.9" class="tk"/>
<line x1="626.82" y1="327.3" x2="626.82" y2="329.9" class="tk"/>
<line x1="630.92" y1="327.3" x2="630.92" y2="329.9" class="tk"/>
<line x1="635.02" y1="327.3" x2="635.02" y2="329.9" class="tk"/>
<line x1="639.11" y1="327.3" x2="639.11" y2="329.9" class="tk"/>
<rect x="646.2" y="2" width="25.4" height="13" fill="#d9d9d9"/>
<text x="658.9" y="11.3" class="st">Tyr</text>
<rect x="646.81" y="238.6" width="3.69" height="74.6" fill="#6c97ca"/>
<rect x="646.81" y="226" width="3.69" height="12.6" fill="#c05232"/>
<rect x="650.91" y="238.6" width="3.69" height="74.6" fill="#6c97ca"/>
<rect x="650.91" y="226" width="3.69" height="12.6" fill="#c05232"/>
<rect x="655.01" y="238.6" width="3.69" height="74.6" fill="#6c97ca"/>
<rect x="655.01" y="226" width="3.69" height="12.6" fill="#c05232"/>
<rect x="659.1" y="238.6" width="3.69" height="74.6" fill="#6c97ca"/>
<rect x="659.1" y="226" width="3.69" height="12.6" fill="#c05232"/>
<rect x="663.2" y="238.6" width="3.69" height="74.6" fill="#6c97ca"/>
<rect x="663.2" y="226" width="3.69" height="12.6" fill="#c05232"/>
<rect x="667.3" y="238.6" width="3.69" height="74.6" fill="#6c97ca"/>
<rect x="667.3" y="226" width="3.69" height="12.6" fill="#c05232"/>
<line x1="646" y1="327.3" x2="671.6" y2="327.3" class="ax"/>
<line x1="648.66" y1="327.3" x2="648.66" y2="329.9" class="tk"/>
<line x1="652.75" y1="327.3" x2="652.75" y2="329.9" class="tk"/>
<line x1="656.85" y1="327.3" x2="656.85" y2="329.9" class="tk"/>
<line x1="660.95" y1="327.3" x2="660.95" y2="329.9" class="tk"/>
<line x1="665.05" y1="327.3" x2="665.05" y2="329.9" class="tk"/>
<line x1="669.14" y1="327.3" x2="669.14" y2="329.9" class="tk"/>
<rect x="676.23" y="2" width="25.4" height="13" fill="#d9d9d9"/>
<text x="688.93" y="11.3" class="st">Val</text>
<rect x="676.84" y="221" width="3.69" height="92.2" fill="#6c97ca"/>
<rect x="676.84" y="209.6" width="3.69" height="11.4" fill="#c05232"/>
<rect x="676.84" y="148.4" width="3.69" height="61.2" fill="#a3c66e"/>
<rect x="676.84" y="139" width="3.69" height="9.4" fill="#7a5696"/>
<rect x="680.94" y="221.6" width="3.69" height="91.6" fill="#6c97ca"/>
<rect x="680.94" y="210" width="3.69" height="11.6" fill="#c05232"/>
<rect x="680.94" y="149.4" width="3.69" height="60.6" fill="#a3c66e"/>
<rect x="680.94" y="139" width="3.69" height="10.4" fill="#7a5696"/>
<rect x="685.04" y="222.4" width="3.69" height="90.8" fill="#6c97ca"/>
<rect x="685.04" y="210" width="3.69" height="12.4" fill="#c05232"/>
<rect x="685.04" y="149" width="3.69" height="61" fill="#a3c66e"/>
<rect x="685.04" y="139" width="3.69" height="10" fill="#7a5696"/>
<rect x="689.13" y="220.4" width="3.69" height="92.8" fill="#6c97ca"/>
<rect x="689.13" y="209" width="3.69" height="11.4" fill="#c05232"/>
<rect x="689.13" y="150" width="3.69" height="59" fill="#a3c66e"/>
<rect x="689.13" y="139" width="3.69" height="11" fill="#7a5696"/>
<rect x="693.23" y="221" width="3.69" height="92.2" fill="#6c97ca"/>
<rect x="693.23" y="209" width="3.69" height="12" fill="#c05232"/>
<rect x="693.23" y="150" width="3.69" height="59" fill="#a3c66e"/>
<rect x="693.23" y="139" width="3.69" height="11" fill="#7a5696"/>
<rect x="697.33" y="221" width="3.69" height="92.2" fill="#6c97ca"/>
<rect x="697.33" y="209.6" width="3.69" height="11.4" fill="#c05232"/>
<rect x="697.33" y="148.4" width="3.69" height="61.2" fill="#a3c66e"/>
<rect x="697.33" y="139" width="3.69" height="9.4" fill="#7a5696"/>
<line x1="676.03" y1="327.3" x2="701.63" y2="327.3" class="ax"/>
<line x1="678.69" y1="327.3" x2="678.69" y2="329.9" class="tk"/>
<line x1="682.78" y1="327.3" x2="682.78" y2="329.9" class="tk"/>
<line x1="686.88" y1="327.3" x2="686.88" y2="329.9" class="tk"/>
<line x1="690.98" y1="327.3" x2="690.98" y2="329.9" class="tk"/>
<line x1="695.08" y1="327.3" x2="695.08" y2="329.9" class="tk"/>
<line x1="699.17" y1="327.3" x2="699.17" y2="329.9" class="tk"/>
<line x1="45.5" y1="15" x2="45.5" y2="327.75" class="ax"/>
<line x1="42.9" y1="313.5" x2="45.5" y2="313.5" class="tk"/>
<text x="42.2" y="317.1" class="yt">0</text>
<line x1="42.9" y1="226" x2="45.5" y2="226" class="tk"/>
<text x="42.2" y="229.6" class="yt">2</text>
<line x1="42.9" y1="138.5" x2="45.5" y2="138.5" class="tk"/>
<text x="42.2" y="142.1" class="yt">4</text>
<line x1="42.9" y1="51" x2="45.5" y2="51" class="tk"/>
<text x="42.2" y="54.6" class="yt">6</text>
<rect x="45.7" y="340" width="25.45" height="13.4" fill="#d9d9d9"/>
<text x="58.43" y="349.5" class="st">Ala</text>
<rect x="46.32" y="588" width="3.69" height="79.1" fill="#6c97ca"/>
<rect x="46.32" y="554.5" width="3.69" height="33.5" fill="#c05232"/>
<rect x="46.32" y="518.8" width="3.69" height="35.7" fill="#a3c66e"/>
<rect x="46.32" y="484.1" width="3.69" height="34.7" fill="#7a5696"/>
<rect x="50.42" y="585" width="3.69" height="82.1" fill="#6c97ca"/>
<rect x="50.42" y="554.5" width="3.69" height="30.5" fill="#c05232"/>
<rect x="50.42" y="514.8" width="3.69" height="39.7" fill="#a3c66e"/>
<rect x="50.42" y="484.1" width="3.69" height="30.7" fill="#7a5696"/>
<rect x="54.53" y="584" width="3.69" height="83.1" fill="#6c97ca"/>
<rect x="54.53" y="549.2" width="3.69" height="34.8" fill="#c05232"/>
<rect x="54.53" y="510" width="3.69" height="39.2" fill="#a3c66e"/>
<rect x="54.53" y="483.6" width="3.69" height="26.4" fill="#7a5696"/>
<rect x="58.63" y="584" width="3.69" height="83.1" fill="#6c97ca"/>
<rect x="58.63" y="554" width="3.69" height="30" fill="#c05232"/>
<rect x="58.63" y="515.3" width="3.69" height="38.7" fill="#a3c66e"/>
<rect x="58.63" y="484.4" width="3.69" height="30.9" fill="#7a5696"/>
<rect x="62.74" y="584" width="3.69" height="83.1" fill="#6c97ca"/>
<rect x="62.74" y="554" width="3.69" height="30" fill="#c05232"/>
<rect x="62.74" y="514.8" width="3.69" height="39.2" fill="#a3c66e"/>
<rect x="62.74" y="483.1" width="3.69" height="31.7" fill="#7a5696"/>
<rect x="66.84" y="590" width="3.69" height="77.1" fill="#6c97ca"/>
<rect x="66.84" y="554.8" width="3.69" height="35.2" fill="#c05232"/>
<rect x="66.84" y="515.9" width="3.69" height="38.9" fill="#a3c66e"/>
<rect x="66.84" y="484.1" width="3.69" height="31.8" fill="#7a5696"/>
<line x1="45.5" y1="682.8" x2="71.15" y2="682.8" class="ax"/>
<line x1="48.16" y1="682.8" x2="48.16" y2="685.4" class="tk"/>
<line x1="52.27" y1="682.8" x2="52.27" y2="685.4" class="tk"/>
<line x1="56.37" y1="682.8" x2="56.37" y2="685.4" class="tk"/>
<line x1="60.48" y1="682.8" x2="60.48" y2="685.4" class="tk"/>
<line x1="64.58" y1="682.8" x2="64.58" y2="685.4" class="tk"/>
<line x1="68.69" y1="682.8" x2="68.69" y2="685.4" class="tk"/>
<rect x="75.82" y="340" width="25.45" height="13.4" fill="#d9d9d9"/>
<text x="88.55" y="349.5" class="st">Arg</text>
<rect x="76.44" y="598" width="3.69" height="69.1" fill="#6c97ca"/>
<rect x="76.44" y="572" width="3.69" height="26" fill="#c05232"/>
<rect x="76.44" y="535.6" width="3.69" height="36.4" fill="#a3c66e"/>
<rect x="76.44" y="504" width="3.69" height="31.6" fill="#7a5696"/>
<rect x="80.54" y="594" width="3.69" height="73.1" fill="#6c97ca"/>
<rect x="80.54" y="570.6" width="3.69" height="23.4" fill="#c05232"/>
<rect x="80.54" y="529.6" width="3.69" height="41" fill="#a3c66e"/>
<rect x="80.54" y="507" width="3.69" height="22.6" fill="#7a5696"/>
<rect x="84.65" y="594.4" width="3.69" height="72.7" fill="#6c97ca"/>
<rect x="84.65" y="565.6" width="3.69" height="28.8" fill="#c05232"/>
<rect x="84.65" y="524" width="3.69" height="41.6" fill="#a3c66e"/>
<rect x="84.65" y="501.6" width="3.69" height="22.4" fill="#7a5696"/>
<rect x="88.75" y="593.6" width="3.69" height="73.5" fill="#6c97ca"/>
<rect x="88.75" y="571" width="3.69" height="22.6" fill="#c05232"/>
<rect x="88.75" y="530" width="3.69" height="41" fill="#a3c66e"/>
<rect x="88.75" y="507" width="3.69" height="23" fill="#7a5696"/>
<rect x="92.86" y="593" width="3.69" height="74.1" fill="#6c97ca"/>
<rect x="92.86" y="570" width="3.69" height="23" fill="#c05232"/>
<rect x="92.86" y="529" width="3.69" height="41" fill="#a3c66e"/>
<rect x="92.86" y="506" width="3.69" height="23" fill="#7a5696"/>
<rect x="96.96" y="596" width="3.69" height="71.1" fill="#6c97ca"/>
<rect x="96.96" y="573" width="3.69" height="23" fill="#c05232"/>
<rect x="96.96" y="532" width="3.69" height="41" fill="#a3c66e"/>
<rect x="96.96" y="500" width="3.69" height="32" fill="#7a5696"/>
<line x1="75.62" y1="682.8" x2="101.27" y2="682.8" class="ax"/>
<line x1="78.28" y1="682.8" x2="78.28" y2="685.4" class="tk"/>
<line x1="82.39" y1="682.8" x2="82.39" y2="685.4" class="tk"/>
<line x1="86.49" y1="682.8" x2="86.49" y2="685.4" class="tk"/>
<line x1="90.6" y1="682.8" x2="90.6" y2="685.4" class="tk"/>
<line x1="94.7" y1="682.8" x2="94.7" y2="685.4" class="tk"/>
<line x1="98.81" y1="682.8" x2="98.81" y2="685.4" class="tk"/>
<rect x="105.94" y="340" width="25.45" height="13.4" fill="#d9d9d9"/>
<text x="118.66" y="349.5" class="st">Asn</text>
<rect x="106.56" y="595" width="3.69" height="72.1" fill="#6c97ca"/>
<rect x="106.56" y="575.6" width="3.69" height="19.4" fill="#c05232"/>
<rect x="106.56" y="500" width="3.69" height="75.6" fill="#a3c66e"/>
<rect x="110.66" y="592.4" width="3.69" height="74.7" fill="#6c97ca"/>
<rect x="110.66" y="575.6" width="3.69" height="16.8" fill="#c05232"/>
<rect x="110.66" y="502.6" width="3.69" height="73" fill="#a3c66e"/>
<rect x="114.77" y="591.4" width="3.69" height="75.7" fill="#6c97ca"/>
<rect x="114.77" y="575.6" width="3.69" height="15.8" fill="#c05232"/>
<rect x="114.77" y="501" width="3.69" height="74.6" fill="#a3c66e"/>
<rect x="118.87" y="592" width="3.69" height="75.1" fill="#6c97ca"/>
<rect x="118.87" y="575.6" width="3.69" height="16.4" fill="#c05232"/>
<rect x="118.87" y="502" width="3.69" height="73.6" fill="#a3c66e"/>
<rect x="122.98" y="592.4" width="3.69" height="74.7" fill="#6c97ca"/>
<rect x="122.98" y="575.6" width="3.69" height="16.8" fill="#c05232"/>
<rect x="122.98" y="502" width="3.69" height="73.6" fill="#a3c66e"/>
<rect x="127.08" y="594.4" width="3.69" height="72.7" fill="#6c97ca"/>
<rect x="127.08" y="575.6" width="3.69" height="18.8" fill="#c05232"/>
<rect x="127.08" y="498.4" width="3.69" height="77.2" fill="#a3c66e"/>
<line x1="105.74" y1="682.8" x2="131.39" y2="682.8" class="ax"/>
<line x1="108.4" y1="682.8" x2="108.4" y2="685.4" class="tk"/>
<line x1="112.51" y1="682.8" x2="112.51" y2="685.4" class="tk"/>
<line x1="116.61" y1="682.8" x2="116.61" y2="685.4" class="tk"/>
<line x1="120.72" y1="682.8" x2="120.72" y2="685.4" class="tk"/>
<line x1="124.82" y1="682.8" x2="124.82" y2="685.4" class="tk"/>
<line x1="128.93" y1="682.8" x2="128.93" y2="685.4" class="tk"/>
<rect x="136.06" y="340" width="25.45" height="13.4" fill="#d9d9d9"/>
<text x="148.78" y="349.5" class="st">Asp</text>
<rect x="136.68" y="595.4" width="3.69" height="71.7" fill="#6c97ca"/>
<rect x="136.68" y="575.6" width="3.69" height="19.8" fill="#c05232"/>
<rect x="140.78" y="592" width="3.69" height="75.1" fill="#6c97ca"/>
<rect x="140.78" y="575.6" width="3.69" height="16.4" fill="#c05232"/>
<rect x="144.89" y="595.1" width="3.69" height="72" fill="#6c97ca"/>
<rect x="144.89" y="575.6" width="3.69" height="19.5" fill="#c05232"/>
<rect x="148.99" y="592.4" width="3.69" height="74.7" fill="#6c97ca"/>
<rect x="148.99" y="575.6" width="3.69" height="16.8" fill="#c05232"/>
<rect x="153.1" y="592.4" width="3.69" height="74.7" fill="#6c97ca"/>
<rect x="153.1" y="575.6" width="3.69" height="16.8" fill="#c05232"/>
<rect x="157.2" y="595.1" width="3.69" height="72" fill="#6c97ca"/>
<rect x="157.2" y="575.6" width="3.69" height="19.5" fill="#c05232"/>
<line x1="135.86" y1="682.8" x2="161.51" y2="682.8" class="ax"/>
<line x1="138.52" y1="682.8" x2="138.52" y2="685.4" class="tk"/>
<line x1="142.63" y1="682.8" x2="142.63" y2="685.4" class="tk"/>
<line x1="146.73" y1="682.8" x2="146.73" y2="685.4" class="tk"/>
<line x1="150.84" y1="682.8" x2="150.84" y2="685.4" class="tk"/>
<line x1="154.94" y1="682.8" x2="154.94" y2="685.4" class="tk"/>
<line x1="159.05" y1="682.8" x2="159.05" y2="685.4" class="tk"/>
<rect x="166.18" y="340" width="25.45" height="13.4" fill="#d9d9d9"/>
<text x="178.91" y="349.5" class="st">Cys</text>
<rect x="166.8" y="604.7" width="3.69" height="62.4" fill="#6c97ca"/>
<rect x="166.8" y="575.6" width="3.69" height="29.1" fill="#c05232"/>
<rect x="170.9" y="600.8" width="3.69" height="66.3" fill="#6c97ca"/>
<rect x="170.9" y="575.6" width="3.69" height="25.2" fill="#c05232"/>
<rect x="175.01" y="604.2" width="3.69" height="62.9" fill="#6c97ca"/>
<rect x="175.01" y="574.8" width="3.69" height="29.4" fill="#c05232"/>
<rect x="179.11" y="601" width="3.69" height="66.1" fill="#6c97ca"/>
<rect x="179.11" y="575.6" width="3.69" height="25.4" fill="#c05232"/>
<rect x="183.22" y="601" width="3.69" height="66.1" fill="#6c97ca"/>
<rect x="183.22" y="575.6" width="3.69" height="25.4" fill="#c05232"/>
<rect x="187.32" y="609.3" width="3.69" height="57.8" fill="#6c97ca"/>
<rect x="187.32" y="575.6" width="3.69" height="33.7" fill="#c05232"/>
<line x1="165.98" y1="682.8" x2="191.63" y2="682.8" class="ax"/>
<line x1="168.64" y1="682.8" x2="168.64" y2="685.4" class="tk"/>
<line x1="172.75" y1="682.8" x2="172.75" y2="685.4" class="tk"/>
<line x1="176.85" y1="682.8" x2="176.85" y2="685.4" class="tk"/>
<line x1="180.96" y1="682.8" x2="180.96" y2="685.4" class="tk"/>
<line x1="185.06" y1="682.8" x2="185.06" y2="685.4" class="tk"/>
<line x1="189.17" y1="682.8" x2="189.17" y2="685.4" class="tk"/>
<rect x="196.3" y="340" width="25.45" height="13.4" fill="#d9d9d9"/>
<text x="209.03" y="349.5" class="st">Gln</text>
<rect x="196.92" y="595.4" width="3.69" height="71.7" fill="#6c97ca"/>
<rect x="196.92" y="575.6" width="3.69" height="19.8" fill="#c05232"/>
<rect x="201.02" y="595.1" width="3.69" height="72" fill="#6c97ca"/>
<rect x="201.02" y="575.6" width="3.69" height="19.5" fill="#c05232"/>
<rect x="205.13" y="592" width="3.69" height="75.1" fill="#6c97ca"/>
<rect x="205.13" y="575.6" width="3.69" height="16.4" fill="#c05232"/>
<rect x="209.23" y="595.1" width="3.69" height="72" fill="#6c97ca"/>
<rect x="209.23" y="575.6" width="3.69" height="19.5" fill="#c05232"/>
<rect x="213.34" y="595.1" width="3.69" height="72" fill="#6c97ca"/>
<rect x="213.34" y="575.6" width="3.69" height="19.5" fill="#c05232"/>
<rect x="217.44" y="594.2" width="3.69" height="72.9" fill="#6c97ca"/>
<rect x="217.44" y="575.6" width="3.69" height="18.6" fill="#c05232"/>
<line x1="196.1" y1="682.8" x2="221.75" y2="682.8" class="ax"/>
<line x1="198.76" y1="682.8" x2="198.76" y2="685.4" class="tk"/>
<line x1="202.87" y1="682.8" x2="202.87" y2="685.4" class="tk"/>
<line x1="206.97" y1="682.8" x2="206.97" y2="685.4" class="tk"/>
<line x1="211.08" y1="682.8" x2="211.08" y2="685.4" class="tk"/>
<line x1="215.18" y1="682.8" x2="215.18" y2="685.4" class="tk"/>
<line x1="219.29" y1="682.8" x2="219.29" y2="685.4" class="tk"/>
<rect x="226.42" y="340" width="25.45" height="13.4" fill="#d9d9d9"/>
<text x="239.15" y="349.5" class="st">Glu</text>
<rect x="227.04" y="609.8" width="3.69" height="57.3" fill="#6c97ca"/>
<rect x="227.04" y="575.6" width="3.69" height="34.2" fill="#c05232"/>
<rect x="231.14" y="608.1" width="3.69" height="59" fill="#6c97ca"/>
<rect x="231.14" y="575.6" width="3.69" height="32.5" fill="#c05232"/>
<rect x="235.25" y="606.1" width="3.69" height="61" fill="#6c97ca"/>
<rect x="235.25" y="575.6" width="3.69" height="30.5" fill="#c05232"/>
<rect x="239.35" y="608.9" width="3.69" height="58.2" fill="#6c97ca"/>
<rect x="239.35" y="575.6" width="3.69" height="33.3" fill="#c05232"/>
<rect x="243.46" y="608.9" width="3.69" height="58.2" fill="#6c97ca"/>
<rect x="243.46" y="575.6" width="3.69" height="33.3" fill="#c05232"/>
<rect x="247.56" y="612.3" width="3.69" height="54.8" fill="#6c97ca"/>
<rect x="247.56" y="575.6" width="3.69" height="36.7" fill="#c05232"/>
<line x1="226.22" y1="682.8" x2="251.87" y2="682.8" class="ax"/>
<line x1="228.88" y1="682.8" x2="228.88" y2="685.4" class="tk"/>
<line x1="232.99" y1="682.8" x2="232.99" y2="685.4" class="tk"/>
<line x1="237.09" y1="682.8" x2="237.09" y2="685.4" class="tk"/>
<line x1="241.2" y1="682.8" x2="241.2" y2="685.4" class="tk"/>
<line x1="245.3" y1="682.8" x2="245.3" y2="685.4" class="tk"/>
<line x1="249.41" y1="682.8" x2="249.41" y2="685.4" class="tk"/>
<rect x="256.54" y="340" width="25.45" height="13.4" fill="#d9d9d9"/>
<text x="269.27" y="349.5" class="st">Gly</text>
<rect x="257.16" y="579.6" width="3.69" height="87.5" fill="#6c97ca"/>
<rect x="257.16" y="560.4" width="3.69" height="19.2" fill="#c05232"/>
<rect x="257.16" y="522" width="3.69" height="38.4" fill="#a3c66e"/>
<rect x="257.16" y="483.6" width="3.69" height="38.4" fill="#7a5696"/>
<rect x="261.26" y="580" width="3.69" height="87.1" fill="#6c97ca"/>
<rect x="261.26" y="561" width="3.69" height="19" fill="#c05232"/>
<rect x="261.26" y="521" width="3.69" height="40" fill="#a3c66e"/>
<rect x="261.26" y="483.6" width="3.69" height="37.4" fill="#7a5696"/>
<rect x="265.37" y="579" width="3.69" height="88.1" fill="#6c97ca"/>
<rect x="265.37" y="561.4" width="3.69" height="17.6" fill="#c05232"/>
<rect x="265.37" y="522.4" width="3.69" height="39" fill="#a3c66e"/>
<rect x="265.37" y="483.6" width="3.69" height="38.8" fill="#7a5696"/>
<rect x="269.47" y="579.6" width="3.69" height="87.5" fill="#6c97ca"/>
<rect x="269.47" y="561.4" width="3.69" height="18.2" fill="#c05232"/>
<rect x="269.47" y="519" width="3.69" height="42.4" fill="#a3c66e"/>
<rect x="269.47" y="483.6" width="3.69" height="35.4" fill="#7a5696"/>
<rect x="273.58" y="579.6" width="3.69" height="87.5" fill="#6c97ca"/>
<rect x="273.58" y="560.6" width="3.69" height="19" fill="#c05232"/>
<rect x="273.58" y="519" width="3.69" height="41.6" fill="#a3c66e"/>
<rect x="273.58" y="483.6" width="3.69" height="35.4" fill="#7a5696"/>
<rect x="277.68" y="580" width="3.69" height="87.1" fill="#6c97ca"/>
<rect x="277.68" y="560.4" width="3.69" height="19.6" fill="#c05232"/>
<rect x="277.68" y="519.6" width="3.69" height="40.8" fill="#a3c66e"/>
<rect x="277.68" y="483.6" width="3.69" height="36" fill="#7a5696"/>
<line x1="256.34" y1="682.8" x2="281.99" y2="682.8" class="ax"/>
<line x1="259" y1="682.8" x2="259" y2="685.4" class="tk"/>
<line x1="263.11" y1="682.8" x2="263.11" y2="685.4" class="tk"/>
<line x1="267.21" y1="682.8" x2="267.21" y2="685.4" class="tk"/>
<line x1="271.32" y1="682.8" x2="271.32" y2="685.4" class="tk"/>
<line x1="275.42" y1="682.8" x2="275.42" y2="685.4" class="tk"/>
<line x1="279.53" y1="682.8" x2="279.53" y2="685.4" class="tk"/>
<rect x="286.66" y="340" width="25.45" height="13.4" fill="#d9d9d9"/>
<text x="299.39" y="349.5" class="st">His</text>
<rect x="287.28" y="599" width="3.69" height="68.1" fill="#6c97ca"/>
<rect x="287.28" y="575.6" width="3.69" height="23.4" fill="#c05232"/>
<rect x="291.38" y="598" width="3.69" height="69.1" fill="#6c97ca"/>
<rect x="291.38" y="575.6" width="3.69" height="22.4" fill="#c05232"/>
<rect x="295.49" y="601" width="3.69" height="66.1" fill="#6c97ca"/>
<rect x="295.49" y="575.6" width="3.69" height="25.4" fill="#c05232"/>
<rect x="299.59" y="597.4" width="3.69" height="69.7" fill="#6c97ca"/>
<rect x="299.59" y="575.6" width="3.69" height="21.8" fill="#c05232"/>
<rect x="303.7" y="597.4" width="3.69" height="69.7" fill="#6c97ca"/>
<rect x="303.7" y="575.6" width="3.69" height="21.8" fill="#c05232"/>
<rect x="307.8" y="600.4" width="3.69" height="66.7" fill="#6c97ca"/>
<rect x="307.8" y="575.6" width="3.69" height="24.8" fill="#c05232"/>
<line x1="286.46" y1="682.8" x2="312.11" y2="682.8" class="ax"/>
<line x1="289.12" y1="682.8" x2="289.12" y2="685.4" class="tk"/>
<line x1="293.23" y1="682.8" x2="293.23" y2="685.4" class="tk"/>
<line x1="297.33" y1="682.8" x2="297.33" y2="685.4" class="tk"/>
<line x1="301.44" y1="682.8" x2="301.44" y2="685.4" class="tk"/>
<line x1="305.54" y1="682.8" x2="305.54" y2="685.4" class="tk"/>
<line x1="309.65" y1="682.8" x2="309.65" y2="685.4" class="tk"/>
<rect x="316.78" y="340" width="25.45" height="13.4" fill="#d9d9d9"/>
<text x="329.5" y="349.5" class="st">Ile</text>
<rect x="317.4" y="588.4" width="3.69" height="78.7" fill="#6c97ca"/>
<rect x="317.4" y="576.4" width="3.69" height="12" fill="#c05232"/>
<rect x="317.4" y="530" width="3.69" height="46.4" fill="#a3c66e"/>
<rect x="321.5" y="591.4" width="3.69" height="75.7" fill="#6c97ca"/>
<rect x="321.5" y="577" width="3.69" height="14.4" fill="#c05232"/>
<rect x="321.5" y="529" width="3.69" height="48" fill="#a3c66e"/>
<rect x="325.61" y="592" width="3.69" height="75.1" fill="#6c97ca"/>
<rect x="325.61" y="577" width="3.69" height="15" fill="#c05232"/>
<rect x="325.61" y="529.6" width="3.69" height="47.4" fill="#a3c66e"/>
<rect x="329.71" y="591.4" width="3.69" height="75.7" fill="#6c97ca"/>
<rect x="329.71" y="576" width="3.69" height="15.4" fill="#c05232"/>
<rect x="329.71" y="529" width="3.69" height="47" fill="#a3c66e"/>
<rect x="333.82" y="592" width="3.69" height="75.1" fill="#6c97ca"/>
<rect x="333.82" y="577" width="3.69" height="15" fill="#c05232"/>
<rect x="333.82" y="529.6" width="3.69" height="47.4" fill="#a3c66e"/>
<rect x="337.92" y="590" width="3.69" height="77.1" fill="#6c97ca"/>
<rect x="337.92" y="576" width="3.69" height="14" fill="#c05232"/>
<rect x="337.92" y="529.6" width="3.69" height="46.4" fill="#a3c66e"/>
<line x1="316.58" y1="682.8" x2="342.23" y2="682.8" class="ax"/>
<line x1="319.24" y1="682.8" x2="319.24" y2="685.4" class="tk"/>
<line x1="323.35" y1="682.8" x2="323.35" y2="685.4" class="tk"/>
<line x1="327.45" y1="682.8" x2="327.45" y2="685.4" class="tk"/>
<line x1="331.56" y1="682.8" x2="331.56" y2="685.4" class="tk"/>
<line x1="335.66" y1="682.8" x2="335.66" y2="685.4" class="tk"/>
<line x1="339.77" y1="682.8" x2="339.77" y2="685.4" class="tk"/>
<rect x="346.9" y="340" width="25.45" height="13.4" fill="#d9d9d9"/>
<text x="359.62" y="349.5" class="st">Leu1</text>
<rect x="347.52" y="612.4" width="3.69" height="54.7" fill="#6c97ca"/>
<rect x="347.52" y="607.4" width="3.69" height="5" fill="#c05232"/>
<rect x="347.52" y="583.6" width="3.69" height="23.8" fill="#a3c66e"/>
<rect x="347.52" y="576" width="3.69" height="7.6" fill="#7a5696"/>
<rect x="351.62" y="613.9" width="3.69" height="53.2" fill="#6c97ca"/>
<rect x="351.62" y="608.9" width="3.69" height="5" fill="#c05232"/>
<rect x="351.62" y="583" width="3.69" height="25.9" fill="#a3c66e"/>
<rect x="351.62" y="571.6" width="3.69" height="11.4" fill="#7a5696"/>
<rect x="355.73" y="615.8" width="3.69" height="51.3" fill="#6c97ca"/>
<rect x="355.73" y="609.9" width="3.69" height="5.9" fill="#c05232"/>
<rect x="355.73" y="581.6" width="3.69" height="28.3" fill="#a3c66e"/>
<rect x="355.73" y="572.4" width="3.69" height="9.2" fill="#7a5696"/>
<rect x="359.83" y="613.7" width="3.69" height="53.4" fill="#6c97ca"/>
<rect x="359.83" y="608.2" width="3.69" height="5.5" fill="#c05232"/>
<rect x="359.83" y="582" width="3.69" height="26.2" fill="#a3c66e"/>
<rect x="359.83" y="571.6" width="3.69" height="10.4" fill="#7a5696"/>
<rect x="363.94" y="613.7" width="3.69" height="53.4" fill="#6c97ca"/>
<rect x="363.94" y="608.2" width="3.69" height="5.5" fill="#c05232"/>
<rect x="363.94" y="582.4" width="3.69" height="25.8" fill="#a3c66e"/>
<rect x="363.94" y="572.4" width="3.69" height="10" fill="#7a5696"/>
<rect x="368.04" y="615.5" width="3.69" height="51.6" fill="#6c97ca"/>
<rect x="368.04" y="607.9" width="3.69" height="7.6" fill="#c05232"/>
<rect x="368.04" y="583.6" width="3.69" height="24.3" fill="#a3c66e"/>
<rect x="368.04" y="574" width="3.69" height="9.6" fill="#7a5696"/>
<line x1="346.7" y1="682.8" x2="372.35" y2="682.8" class="ax"/>
<line x1="349.36" y1="682.8" x2="349.36" y2="685.4" class="tk"/>
<line x1="353.47" y1="682.8" x2="353.47" y2="685.4" class="tk"/>
<line x1="357.57" y1="682.8" x2="357.57" y2="685.4" class="tk"/>
<line x1="361.68" y1="682.8" x2="361.68" y2="685.4" class="tk"/>
<line x1="365.78" y1="682.8" x2="365.78" y2="685.4" class="tk"/>
<line x1="369.89" y1="682.8" x2="369.89" y2="685.4" class="tk"/>
<rect x="377.02" y="340" width="25.45" height="13.4" fill="#d9d9d9"/>
<text x="389.75" y="349.5" class="st">Leu2</text>
<rect x="377.64" y="545.6" width="3.69" height="121.5" fill="#6c97ca"/>
<rect x="377.64" y="483.6" width="3.69" height="62" fill="#c05232"/>
<rect x="381.74" y="553" width="3.69" height="114.1" fill="#6c97ca"/>
<rect x="381.74" y="488" width="3.69" height="65" fill="#c05232"/>
<rect x="385.85" y="545.6" width="3.69" height="121.5" fill="#6c97ca"/>
<rect x="385.85" y="488" width="3.69" height="57.6" fill="#c05232"/>
<rect x="389.95" y="552" width="3.69" height="115.1" fill="#6c97ca"/>
<rect x="389.95" y="487.6" width="3.69" height="64.4" fill="#c05232"/>
<rect x="394.06" y="552" width="3.69" height="115.1" fill="#6c97ca"/>
<rect x="394.06" y="487.6" width="3.69" height="64.4" fill="#c05232"/>
<rect x="398.16" y="545.6" width="3.69" height="121.5" fill="#6c97ca"/>
<rect x="398.16" y="485.6" width="3.69" height="60" fill="#c05232"/>
<line x1="376.82" y1="682.8" x2="402.47" y2="682.8" class="ax"/>
<line x1="379.48" y1="682.8" x2="379.48" y2="685.4" class="tk"/>
<line x1="383.59" y1="682.8" x2="383.59" y2="685.4" class="tk"/>
<line x1="387.69" y1="682.8" x2="387.69" y2="685.4" class="tk"/>
<line x1="391.8" y1="682.8" x2="391.8" y2="685.4" class="tk"/>
<line x1="395.9" y1="682.8" x2="395.9" y2="685.4" class="tk"/>
<line x1="400.01" y1="682.8" x2="400.01" y2="685.4" class="tk"/>
<rect x="407.14" y="340" width="25.45" height="13.4" fill="#d9d9d9"/>
<text x="419.87" y="349.5" class="st">Lys</text>
<rect x="407.76" y="651.3" width="3.69" height="15.8" fill="#6c97ca"/>
<rect x="411.86" y="648.8" width="3.69" height="18.3" fill="#6c97ca"/>
<rect x="415.97" y="650" width="3.69" height="17.1" fill="#6c97ca"/>
<rect x="420.07" y="649.2" width="3.69" height="17.9" fill="#6c97ca"/>
<rect x="424.18" y="649.2" width="3.69" height="17.9" fill="#6c97ca"/>
<rect x="428.28" y="653" width="3.69" height="14.1" fill="#6c97ca"/>
<line x1="406.94" y1="682.8" x2="432.59" y2="682.8" class="ax"/>
<line x1="409.6" y1="682.8" x2="409.6" y2="685.4" class="tk"/>
<line x1="413.71" y1="682.8" x2="413.71" y2="685.4" class="tk"/>
<line x1="417.81" y1="682.8" x2="417.81" y2="685.4" class="tk"/>
<line x1="421.92" y1="682.8" x2="421.92" y2="685.4" class="tk"/>
<line x1="426.02" y1="682.8" x2="426.02" y2="685.4" class="tk"/>
<line x1="430.13" y1="682.8" x2="430.13" y2="685.4" class="tk"/>
<rect x="437.26" y="340" width="25.45" height="13.4" fill="#d9d9d9"/>
<text x="449.99" y="349.5" class="st">Met</text>
<rect x="437.88" y="621.5" width="3.69" height="45.6" fill="#6c97ca"/>
<rect x="441.98" y="621.5" width="3.69" height="45.6" fill="#6c97ca"/>
<rect x="446.09" y="621.5" width="3.69" height="45.6" fill="#6c97ca"/>
<rect x="450.19" y="621.5" width="3.69" height="45.6" fill="#6c97ca"/>
<rect x="454.3" y="621.5" width="3.69" height="45.6" fill="#6c97ca"/>
<rect x="458.4" y="621.5" width="3.69" height="45.6" fill="#6c97ca"/>
<line x1="437.06" y1="682.8" x2="462.71" y2="682.8" class="ax"/>
<line x1="439.72" y1="682.8" x2="439.72" y2="685.4" class="tk"/>
<line x1="443.83" y1="682.8" x2="443.83" y2="685.4" class="tk"/>
<line x1="447.93" y1="682.8" x2="447.93" y2="685.4" class="tk"/>
<line x1="452.04" y1="682.8" x2="452.04" y2="685.4" class="tk"/>
<line x1="456.14" y1="682.8" x2="456.14" y2="685.4" class="tk"/>
<line x1="460.25" y1="682.8" x2="460.25" y2="685.4" class="tk"/>
<rect x="467.38" y="340" width="25.45" height="13.4" fill="#d9d9d9"/>
<text x="480.11" y="349.5" class="st">Phe</text>
<rect x="468" y="586.9" width="3.69" height="80.2" fill="#6c97ca"/>
<rect x="468" y="575.6" width="3.69" height="11.3" fill="#c05232"/>
<rect x="472.1" y="586.3" width="3.69" height="80.8" fill="#6c97ca"/>
<rect x="472.1" y="575.6" width="3.69" height="10.7" fill="#c05232"/>
<rect x="476.21" y="585.6" width="3.69" height="81.5" fill="#6c97ca"/>
<rect x="476.21" y="575.6" width="3.69" height="10" fill="#c05232"/>
<rect x="480.31" y="586.3" width="3.69" height="80.8" fill="#6c97ca"/>
<rect x="480.31" y="575.6" width="3.69" height="10.7" fill="#c05232"/>
<rect x="484.42" y="586.3" width="3.69" height="80.8" fill="#6c97ca"/>
<rect x="484.42" y="575.6" width="3.69" height="10.7" fill="#c05232"/>
<rect x="488.52" y="586.9" width="3.69" height="80.2" fill="#6c97ca"/>
<rect x="488.52" y="575.6" width="3.69" height="11.3" fill="#c05232"/>
<line x1="467.18" y1="682.8" x2="492.83" y2="682.8" class="ax"/>
<line x1="469.84" y1="682.8" x2="469.84" y2="685.4" class="tk"/>
<line x1="473.95" y1="682.8" x2="473.95" y2="685.4" class="tk"/>
<line x1="478.05" y1="682.8" x2="478.05" y2="685.4" class="tk"/>
<line x1="482.16" y1="682.8" x2="482.16" y2="685.4" class="tk"/>
<line x1="486.26" y1="682.8" x2="486.26" y2="685.4" class="tk"/>
<line x1="490.37" y1="682.8" x2="490.37" y2="685.4" class="tk"/>
<rect x="497.5" y="340" width="25.45" height="13.4" fill="#d9d9d9"/>
<text x="510.23" y="349.5" class="st">Pro</text>
<rect x="498.12" y="601.8" width="3.69" height="65.3" fill="#6c97ca"/>
<rect x="498.12" y="562.2" width="3.69" height="39.6" fill="#c05232"/>
<rect x="498.12" y="517.4" width="3.69" height="44.8" fill="#a3c66e"/>
<rect x="498.12" y="483.2" width="3.69" height="34.2" fill="#7a5696"/>
<rect x="502.22" y="601.2" width="3.69" height="65.9" fill="#6c97ca"/>
<rect x="502.22" y="568.1" width="3.69" height="33.1" fill="#c05232"/>
<rect x="502.22" y="521.2" width="3.69" height="46.9" fill="#a3c66e"/>
<rect x="502.22" y="484.5" width="3.69" height="36.7" fill="#7a5696"/>
<rect x="506.33" y="599.1" width="3.69" height="68" fill="#6c97ca"/>
<rect x="506.33" y="568.1" width="3.69" height="31" fill="#c05232"/>
<rect x="506.33" y="514.8" width="3.69" height="53.3" fill="#a3c66e"/>
<rect x="506.33" y="483.2" width="3.69" height="31.6" fill="#7a5696"/>
<rect x="510.43" y="602.3" width="3.69" height="64.8" fill="#6c97ca"/>
<rect x="510.43" y="567.1" width="3.69" height="35.2" fill="#c05232"/>
<rect x="510.43" y="521.2" width="3.69" height="45.9" fill="#a3c66e"/>
<rect x="510.43" y="484.5" width="3.69" height="36.7" fill="#7a5696"/>
<rect x="514.54" y="602.7" width="3.69" height="64.4" fill="#6c97ca"/>
<rect x="514.54" y="567.1" width="3.69" height="35.6" fill="#c05232"/>
<rect x="514.54" y="521.2" width="3.69" height="45.9" fill="#a3c66e"/>
<rect x="514.54" y="483.9" width="3.69" height="37.3" fill="#7a5696"/>
<rect x="518.64" y="601.2" width="3.69" height="65.9" fill="#6c97ca"/>
<rect x="518.64" y="565.6" width="3.69" height="35.6" fill="#c05232"/>
<rect x="518.64" y="520.1" width="3.69" height="45.5" fill="#a3c66e"/>
<rect x="518.64" y="483.9" width="3.69" height="36.2" fill="#7a5696"/>
<line x1="497.3" y1="682.8" x2="522.95" y2="682.8" class="ax"/>
<line x1="499.96" y1="682.8" x2="499.96" y2="685.4" class="tk"/>
<line x1="504.07" y1="682.8" x2="504.07" y2="685.4" class="tk"/>
<line x1="508.17" y1="682.8" x2="508.17" y2="685.4" class="tk"/>
<line x1="512.28" y1="682.8" x2="512.28" y2="685.4" class="tk"/>
<line x1="516.38" y1="682.8" x2="516.38" y2="685.4" class="tk"/>
<line x1="520.49" y1="682.8" x2="520.49" y2="685.4" class="tk"/>
<rect x="527.62" y="340" width="25.45" height="13.4" fill="#d9d9d9"/>
<text x="540.35" y="349.5" class="st">Ser1</text>
<rect x="528.24" y="601.2" width="3.69" height="65.9" fill="#6c97ca"/>
<rect x="528.24" y="577.2" width="3.69" height="24" fill="#c05232"/>
<rect x="528.24" y="496.8" width="3.69" height="80.4" fill="#a3c66e"/>
<rect x="528.24" y="464.9" width="3.69" height="31.9" fill="#7a5696"/>
<rect x="532.34" y="604.8" width="3.69" height="62.3" fill="#6c97ca"/>
<rect x="532.34" y="578.4" width="3.69" height="26.4" fill="#c05232"/>
<rect x="532.34" y="507.1" width="3.69" height="71.3" fill="#a3c66e"/>
<rect x="532.34" y="463.2" width="3.69" height="43.9" fill="#7a5696"/>
<rect x="536.45" y="607.2" width="3.69" height="59.9" fill="#6c97ca"/>
<rect x="536.45" y="582" width="3.69" height="25.2" fill="#c05232"/>
<rect x="536.45" y="506.4" width="3.69" height="75.6" fill="#a3c66e"/>
<rect x="536.45" y="472.8" width="3.69" height="33.6" fill="#7a5696"/>
<rect x="540.55" y="602.4" width="3.69" height="64.7" fill="#6c97ca"/>
<rect x="540.55" y="576.7" width="3.69" height="25.7" fill="#c05232"/>
<rect x="540.55" y="504.7" width="3.69" height="72" fill="#a3c66e"/>
<rect x="540.55" y="461.5" width="3.69" height="43.2" fill="#7a5696"/>
<rect x="544.66" y="602.4" width="3.69" height="64.7" fill="#6c97ca"/>
<rect x="544.66" y="576.7" width="3.69" height="25.7" fill="#c05232"/>
<rect x="544.66" y="504.7" width="3.69" height="72" fill="#a3c66e"/>
<rect x="544.66" y="461.5" width="3.69" height="43.2" fill="#7a5696"/>
<rect x="548.76" y="601.2" width="3.69" height="65.9" fill="#6c97ca"/>
<rect x="548.76" y="579.1" width="3.69" height="22.1" fill="#c05232"/>
<rect x="548.76" y="502.3" width="3.69" height="76.8" fill="#a3c66e"/>
<rect x="548.76" y="469.7" width="3.69" height="32.6" fill="#7a5696"/>
<line x1="527.42" y1="682.8" x2="553.07" y2="682.8" class="ax"/>
<line x1="530.08" y1="682.8" x2="530.08" y2="685.4" class="tk"/>
<line x1="534.19" y1="682.8" x2="534.19" y2="685.4" class="tk"/>
<line x1="538.29" y1="682.8" x2="538.29" y2="685.4" class="tk"/>
<line x1="542.4" y1="682.8" x2="542.4" y2="685.4" class="tk"/>
<line x1="546.5" y1="682.8" x2="546.5" y2="685.4" class="tk"/>
<line x1="550.61" y1="682.8" x2="550.61" y2="685.4" class="tk"/>
<rect x="557.74" y="340" width="25.45" height="13.4" fill="#d9d9d9"/>
<text x="570.47" y="349.5" class="st">Ser2</text>
<rect x="558.36" y="582.5" width="3.69" height="84.6" fill="#6c97ca"/>
<rect x="558.36" y="556.1" width="3.69" height="26.4" fill="#c05232"/>
<rect x="558.36" y="511.9" width="3.69" height="44.2" fill="#a3c66e"/>
<rect x="558.36" y="481.7" width="3.69" height="30.2" fill="#7a5696"/>
<rect x="562.46" y="579.6" width="3.69" height="87.5" fill="#6c97ca"/>
<rect x="562.46" y="550.3" width="3.69" height="29.3" fill="#c05232"/>
<rect x="562.46" y="507.6" width="3.69" height="42.7" fill="#a3c66e"/>
<rect x="562.46" y="480.7" width="3.69" height="26.9" fill="#7a5696"/>
<rect x="566.57" y="573.6" width="3.69" height="93.5" fill="#6c97ca"/>
<rect x="566.57" y="549.6" width="3.69" height="24" fill="#c05232"/>
<rect x="566.57" y="507.1" width="3.69" height="42.5" fill="#a3c66e"/>
<rect x="566.57" y="476.9" width="3.69" height="30.2" fill="#7a5696"/>
<rect x="570.67" y="580.8" width="3.69" height="86.3" fill="#6c97ca"/>
<rect x="570.67" y="551.3" width="3.69" height="29.5" fill="#c05232"/>
<rect x="570.67" y="508.8" width="3.69" height="42.5" fill="#a3c66e"/>
<rect x="570.67" y="482.4" width="3.69" height="26.4" fill="#7a5696"/>
<rect x="574.78" y="580.8" width="3.69" height="86.3" fill="#6c97ca"/>
<rect x="574.78" y="551.3" width="3.69" height="29.5" fill="#c05232"/>
<rect x="574.78" y="509.5" width="3.69" height="41.8" fill="#a3c66e"/>
<rect x="574.78" y="483.1" width="3.69" height="26.4" fill="#7a5696"/>
<rect x="578.88" y="582" width="3.69" height="85.1" fill="#6c97ca"/>
<rect x="578.88" y="553.2" width="3.69" height="28.8" fill="#c05232"/>
<rect x="578.88" y="509.5" width="3.69" height="43.7" fill="#a3c66e"/>
<rect x="578.88" y="480.7" width="3.69" height="28.8" fill="#7a5696"/>
<line x1="557.54" y1="682.8" x2="583.19" y2="682.8" class="ax"/>
<line x1="560.2" y1="682.8" x2="560.2" y2="685.4" class="tk"/>
<line x1="564.31" y1="682.8" x2="564.31" y2="685.4" class="tk"/>
<line x1="568.41" y1="682.8" x2="568.41" y2="685.4" class="tk"/>
<line x1="572.52" y1="682.8" x2="572.52" y2="685.4" class="tk"/>
<line x1="576.62" y1="682.8" x2="576.62" y2="685.4" class="tk"/>
<line x1="580.73" y1="682.8" x2="580.73" y2="685.4" class="tk"/>
<rect x="587.86" y="340" width="25.45" height="13.4" fill="#d9d9d9"/>
<text x="600.59" y="349.5" class="st">Thr</text>
<rect x="588.48" y="605.5" width="3.69" height="61.6" fill="#6c97ca"/>
<rect x="588.48" y="573.6" width="3.69" height="31.9" fill="#c05232"/>
<rect x="588.48" y="508.8" width="3.69" height="64.8" fill="#a3c66e"/>
<rect x="588.48" y="484.1" width="3.69" height="24.7" fill="#7a5696"/>
<rect x="592.58" y="603.1" width="3.69" height="64" fill="#6c97ca"/>
<rect x="592.58" y="572.4" width="3.69" height="30.7" fill="#c05232"/>
<rect x="592.58" y="509.5" width="3.69" height="62.9" fill="#a3c66e"/>
<rect x="592.58" y="484.1" width="3.69" height="25.4" fill="#7a5696"/>
<rect x="596.69" y="599.3" width="3.69" height="67.8" fill="#6c97ca"/>
<rect x="596.69" y="571.2" width="3.69" height="28.1" fill="#c05232"/>
<rect x="596.69" y="510.5" width="3.69" height="60.7" fill="#a3c66e"/>
<rect x="596.69" y="484.1" width="3.69" height="26.4" fill="#7a5696"/>
<rect x="600.79" y="603.6" width="3.69" height="63.5" fill="#6c97ca"/>
<rect x="600.79" y="571.9" width="3.69" height="31.7" fill="#c05232"/>
<rect x="600.79" y="508.8" width="3.69" height="63.1" fill="#a3c66e"/>
<rect x="600.79" y="484.1" width="3.69" height="24.7" fill="#7a5696"/>
<rect x="604.9" y="602.4" width="3.69" height="64.7" fill="#6c97ca"/>
<rect x="604.9" y="571.2" width="3.69" height="31.2" fill="#c05232"/>
<rect x="604.9" y="508.8" width="3.69" height="62.4" fill="#a3c66e"/>
<rect x="604.9" y="484.1" width="3.69" height="24.7" fill="#7a5696"/>
<rect x="609" y="604.1" width="3.69" height="63" fill="#6c97ca"/>
<rect x="609" y="576" width="3.69" height="28.1" fill="#c05232"/>
<rect x="609" y="510.5" width="3.69" height="65.5" fill="#a3c66e"/>
<rect x="609" y="484.1" width="3.69" height="26.4" fill="#7a5696"/>
<line x1="587.66" y1="682.8" x2="613.31" y2="682.8" class="ax"/>
<line x1="590.32" y1="682.8" x2="590.32" y2="685.4" class="tk"/>
<line x1="594.43" y1="682.8" x2="594.43" y2="685.4" class="tk"/>
<line x1="598.53" y1="682.8" x2="598.53" y2="685.4" class="tk"/>
<line x1="602.64" y1="682.8" x2="602.64" y2="685.4" class="tk"/>
<line x1="606.74" y1="682.8" x2="606.74" y2="685.4" class="tk"/>
<line x1="610.85" y1="682.8" x2="610.85" y2="685.4" class="tk"/>
<rect x="617.98" y="340" width="25.45" height="13.4" fill="#d9d9d9"/>
<text x="630.71" y="349.5" class="st">Trp</text>
<rect x="618.6" y="621.5" width="3.69" height="45.6" fill="#c05232"/>
<rect x="622.7" y="621.5" width="3.69" height="45.6" fill="#c05232"/>
<rect x="626.81" y="621.5" width="3.69" height="45.6" fill="#c05232"/>
<rect x="630.91" y="621.5" width="3.69" height="45.6" fill="#c05232"/>
<rect x="635.02" y="621.5" width="3.69" height="45.6" fill="#c05232"/>
<rect x="639.12" y="621.5" width="3.69" height="45.6" fill="#c05232"/>
<line x1="617.78" y1="682.8" x2="643.43" y2="682.8" class="ax"/>
<line x1="620.44" y1="682.8" x2="620.44" y2="685.4" class="tk"/>
<line x1="624.55" y1="682.8" x2="624.55" y2="685.4" class="tk"/>
<line x1="628.65" y1="682.8" x2="628.65" y2="685.4" class="tk"/>
<line x1="632.76" y1="682.8" x2="632.76" y2="685.4" class="tk"/>
<line x1="636.86" y1="682.8" x2="636.86" y2="685.4" class="tk"/>
<line x1="640.97" y1="682.8" x2="640.97" y2="685.4" class="tk"/>
<rect x="648.1" y="340" width="25.45" height="13.4" fill="#d9d9d9"/>
<text x="660.83" y="349.5" class="st">Tyr</text>
<rect x="648.72" y="598.4" width="3.69" height="68.7" fill="#6c97ca"/>
<rect x="648.72" y="575.6" width="3.69" height="22.8" fill="#c05232"/>
<rect x="652.82" y="596.9" width="3.69" height="70.2" fill="#6c97ca"/>
<rect x="652.82" y="575.6" width="3.69" height="21.3" fill="#c05232"/>
<rect x="656.93" y="599.1" width="3.69" height="68" fill="#6c97ca"/>
<rect x="656.93" y="575.6" width="3.69" height="23.5" fill="#c05232"/>
<rect x="661.03" y="596.9" width="3.69" height="70.2" fill="#6c97ca"/>
<rect x="661.03" y="575.6" width="3.69" height="21.3" fill="#c05232"/>
<rect x="665.14" y="596.9" width="3.69" height="70.2" fill="#6c97ca"/>
<rect x="665.14" y="575.6" width="3.69" height="21.3" fill="#c05232"/>
<rect x="669.24" y="598.6" width="3.69" height="68.5" fill="#6c97ca"/>
<rect x="669.24" y="575.6" width="3.69" height="23" fill="#c05232"/>
<line x1="647.9" y1="682.8" x2="673.55" y2="682.8" class="ax"/>
<line x1="650.56" y1="682.8" x2="650.56" y2="685.4" class="tk"/>
<line x1="654.67" y1="682.8" x2="654.67" y2="685.4" class="tk"/>
<line x1="658.77" y1="682.8" x2="658.77" y2="685.4" class="tk"/>
<line x1="662.88" y1="682.8" x2="662.88" y2="685.4" class="tk"/>
<line x1="666.98" y1="682.8" x2="666.98" y2="685.4" class="tk"/>
<line x1="671.09" y1="682.8" x2="671.09" y2="685.4" class="tk"/>
<rect x="678.22" y="340" width="25.45" height="13.4" fill="#d9d9d9"/>
<text x="690.95" y="349.5" class="st">Val</text>
<rect x="678.84" y="572" width="3.69" height="95.1" fill="#6c97ca"/>
<rect x="678.84" y="547.9" width="3.69" height="24.1" fill="#c05232"/>
<rect x="678.84" y="513.1" width="3.69" height="34.8" fill="#a3c66e"/>
<rect x="678.84" y="483.2" width="3.69" height="29.9" fill="#7a5696"/>
<rect x="682.94" y="567.1" width="3.69" height="100" fill="#6c97ca"/>
<rect x="682.94" y="543.6" width="3.69" height="23.5" fill="#c05232"/>
<rect x="682.94" y="512.2" width="3.69" height="31.4" fill="#a3c66e"/>
<rect x="682.94" y="483.2" width="3.69" height="29" fill="#7a5696"/>
<rect x="687.05" y="566.4" width="3.69" height="100.7" fill="#6c97ca"/>
<rect x="687.05" y="542.5" width="3.69" height="23.9" fill="#c05232"/>
<rect x="687.05" y="508.8" width="3.69" height="33.7" fill="#a3c66e"/>
<rect x="687.05" y="483.2" width="3.69" height="25.6" fill="#7a5696"/>
<rect x="691.15" y="566" width="3.69" height="101.1" fill="#6c97ca"/>
<rect x="691.15" y="541.5" width="3.69" height="24.5" fill="#c05232"/>
<rect x="691.15" y="511" width="3.69" height="30.5" fill="#a3c66e"/>
<rect x="691.15" y="483.2" width="3.69" height="27.8" fill="#7a5696"/>
<rect x="695.26" y="566" width="3.69" height="101.1" fill="#6c97ca"/>
<rect x="695.26" y="541.5" width="3.69" height="24.5" fill="#c05232"/>
<rect x="695.26" y="511" width="3.69" height="30.5" fill="#a3c66e"/>
<rect x="695.26" y="483.2" width="3.69" height="27.8" fill="#7a5696"/>
<rect x="699.36" y="571.3" width="3.69" height="95.8" fill="#6c97ca"/>
<rect x="699.36" y="547.2" width="3.69" height="24.1" fill="#c05232"/>
<rect x="699.36" y="512.2" width="3.69" height="35" fill="#a3c66e"/>
<rect x="699.36" y="483.2" width="3.69" height="29" fill="#7a5696"/>
<line x1="678.02" y1="682.8" x2="703.67" y2="682.8" class="ax"/>
<line x1="680.68" y1="682.8" x2="680.68" y2="685.4" class="tk"/>
<line x1="684.79" y1="682.8" x2="684.79" y2="685.4" class="tk"/>
<line x1="688.89" y1="682.8" x2="688.89" y2="685.4" class="tk"/>
<line x1="693" y1="682.8" x2="693" y2="685.4" class="tk"/>
<line x1="697.1" y1="682.8" x2="697.1" y2="685.4" class="tk"/>
<line x1="701.21" y1="682.8" x2="701.21" y2="685.4" class="tk"/>
<line x1="45.4" y1="353.4" x2="45.4" y2="683.25" class="ax"/>
<line x1="42.8" y1="667.5" x2="45.4" y2="667.5" class="tk"/>
<text x="42.2" y="671.1" class="yt">0</text>
<line x1="42.8" y1="575.5" x2="45.4" y2="575.5" class="tk"/>
<text x="42.2" y="579.1" class="yt">2</text>
<line x1="42.8" y1="483.5" x2="45.4" y2="483.5" class="tk"/>
<text x="42.2" y="487.1" class="yt">4</text>
<line x1="42.8" y1="391.5" x2="45.4" y2="391.5" class="tk"/>
<text x="42.2" y="395.1" class="yt">6</text>
<rect x="45.2" y="690" width="26.7" height="14" fill="#6c97ca"/>
<text x="58.55" y="698.9" class="cd">GCU</text>
<rect x="45.2" y="704" width="26.7" height="14" fill="#c05232"/>
<text x="58.55" y="712.9" class="cd">GCC</text>
<rect x="45.2" y="718" width="26.7" height="14" fill="#a3c66e"/>
<text x="58.55" y="726.9" class="cd">GCA</text>
<rect x="45.2" y="732" width="26.7" height="14" fill="#7a5696"/>
<text x="58.55" y="740.9" class="cd">GCG</text>
<rect x="75.37" y="690" width="26.7" height="14" fill="#6c97ca"/>
<text x="88.72" y="698.9" class="cd">CGU</text>
<rect x="75.37" y="704" width="26.7" height="14" fill="#c05232"/>
<text x="88.72" y="712.9" class="cd">CGC</text>
<rect x="75.37" y="718" width="26.7" height="14" fill="#a3c66e"/>
<text x="88.72" y="726.9" class="cd">CGA</text>
<rect x="75.37" y="732" width="26.7" height="14" fill="#7a5696"/>
<text x="88.72" y="740.9" class="cd">CGG</text>
<rect x="105.54" y="690" width="26.7" height="14" fill="#6c97ca"/>
<text x="118.89" y="698.9" class="cd">AAU</text>
<rect x="105.54" y="704" width="26.7" height="14" fill="#c05232"/>
<text x="118.89" y="712.9" class="cd">AAC</text>
<rect x="105.54" y="718" width="26.7" height="14" fill="#a3c66e"/>
<text x="118.89" y="726.9" class="cd">AAA</text>
<rect x="135.71" y="690" width="26.7" height="14" fill="#6c97ca"/>
<text x="149.06" y="698.9" class="cd">GAU</text>
<rect x="135.71" y="704" width="26.7" height="14" fill="#c05232"/>
<text x="149.06" y="712.9" class="cd">GAC</text>
<rect x="165.88" y="690" width="26.7" height="14" fill="#6c97ca"/>
<text x="179.23" y="698.9" class="cd">UGU</text>
<rect x="165.88" y="704" width="26.7" height="14" fill="#c05232"/>
<text x="179.23" y="712.9" class="cd">UGC</text>
<rect x="196.05" y="690" width="26.7" height="14" fill="#6c97ca"/>
<text x="209.4" y="698.9" class="cd">CAA</text>
<rect x="196.05" y="704" width="26.7" height="14" fill="#c05232"/>
<text x="209.4" y="712.9" class="cd">CAG</text>
<rect x="226.22" y="690" width="26.7" height="14" fill="#6c97ca"/>
<text x="239.57" y="698.9" class="cd">GAA</text>
<rect x="226.22" y="704" width="26.7" height="14" fill="#c05232"/>
<text x="239.57" y="712.9" class="cd">GAG</text>
<rect x="256.39" y="690" width="26.7" height="14" fill="#6c97ca"/>
<text x="269.74" y="698.9" class="cd">GGU</text>
<rect x="256.39" y="704" width="26.7" height="14" fill="#c05232"/>
<text x="269.74" y="712.9" class="cd">GGC</text>
<rect x="256.39" y="718" width="26.7" height="14" fill="#a3c66e"/>
<text x="269.74" y="726.9" class="cd">GGA</text>
<rect x="256.39" y="732" width="26.7" height="14" fill="#7a5696"/>
<text x="269.74" y="740.9" class="cd">GGG</text>
<rect x="286.56" y="690" width="26.7" height="14" fill="#6c97ca"/>
<text x="299.91" y="698.9" class="cd">CAU</text>
<rect x="286.56" y="704" width="26.7" height="14" fill="#c05232"/>
<text x="299.91" y="712.9" class="cd">CAC</text>
<rect x="316.73" y="690" width="26.7" height="14" fill="#6c97ca"/>
<text x="330.08" y="698.9" class="cd">AUU</text>
<rect x="316.73" y="704" width="26.7" height="14" fill="#c05232"/>
<text x="330.08" y="712.9" class="cd">AUC</text>
<rect x="316.73" y="718" width="26.7" height="14" fill="#a3c66e"/>
<text x="330.08" y="726.9" class="cd">AUA</text>
<rect x="346.9" y="690" width="26.7" height="14" fill="#6c97ca"/>
<text x="360.25" y="698.9" class="cd">CUU</text>
<rect x="346.9" y="704" width="26.7" height="14" fill="#c05232"/>
<text x="360.25" y="712.9" class="cd">CUC</text>
<rect x="346.9" y="718" width="26.7" height="14" fill="#a3c66e"/>
<text x="360.25" y="726.9" class="cd">CUA</text>
<rect x="346.9" y="732" width="26.7" height="14" fill="#7a5696"/>
<text x="360.25" y="740.9" class="cd">CUG</text>
<rect x="377.07" y="690" width="26.7" height="14" fill="#6c97ca"/>
<text x="390.42" y="698.9" class="cd">UUA</text>
<rect x="377.07" y="704" width="26.7" height="14" fill="#c05232"/>
<text x="390.42" y="712.9" class="cd">UUG</text>
<rect x="407.24" y="690" width="26.7" height="14" fill="#6c97ca"/>
<text x="420.59" y="698.9" class="cd">AAG</text>
<rect x="437.41" y="690" width="26.7" height="14" fill="#6c97ca"/>
<text x="450.76" y="698.9" class="cd">AUG</text>
<rect x="467.58" y="690" width="26.7" height="14" fill="#6c97ca"/>
<text x="480.93" y="698.9" class="cd">UUU</text>
<rect x="467.58" y="704" width="26.7" height="14" fill="#c05232"/>
<text x="480.93" y="712.9" class="cd">UUC</text>
<rect x="497.75" y="690" width="26.7" height="14" fill="#6c97ca"/>
<text x="511.1" y="698.9" class="cd">CCU</text>
<rect x="497.75" y="704" width="26.7" height="14" fill="#c05232"/>
<text x="511.1" y="712.9" class="cd">CCC</text>
<rect x="497.75" y="718" width="26.7" height="14" fill="#a3c66e"/>
<text x="511.1" y="726.9" class="cd">CCA</text>
<rect x="497.75" y="732" width="26.7" height="14" fill="#7a5696"/>
<text x="511.1" y="740.9" class="cd">CCG</text>
<rect x="527.92" y="690" width="26.7" height="14" fill="#6c97ca"/>
<text x="541.27" y="698.9" class="cd">AGU</text>
<rect x="527.92" y="704" width="26.7" height="14" fill="#c05232"/>
<text x="541.27" y="712.9" class="cd">AGC</text>
<rect x="527.92" y="718" width="26.7" height="14" fill="#a3c66e"/>
<text x="541.27" y="726.9" class="cd">AGA</text>
<rect x="527.92" y="732" width="26.7" height="14" fill="#7a5696"/>
<text x="541.27" y="740.9" class="cd">AGG</text>
<rect x="558.09" y="690" width="26.7" height="14" fill="#6c97ca"/>
<text x="571.44" y="698.9" class="cd">UCU</text>
<rect x="558.09" y="704" width="26.7" height="14" fill="#c05232"/>
<text x="571.44" y="712.9" class="cd">UCC</text>
<rect x="558.09" y="718" width="26.7" height="14" fill="#a3c66e"/>
<text x="571.44" y="726.9" class="cd">UCA</text>
<rect x="558.09" y="732" width="26.7" height="14" fill="#7a5696"/>
<text x="571.44" y="740.9" class="cd">UCG</text>
<rect x="588.26" y="690" width="26.7" height="14" fill="#6c97ca"/>
<text x="601.61" y="698.9" class="cd">ACU</text>
<rect x="588.26" y="704" width="26.7" height="14" fill="#c05232"/>
<text x="601.61" y="712.9" class="cd">ACC</text>
<rect x="588.26" y="718" width="26.7" height="14" fill="#a3c66e"/>
<text x="601.61" y="726.9" class="cd">ACA</text>
<rect x="588.26" y="732" width="26.7" height="14" fill="#7a5696"/>
<text x="601.61" y="740.9" class="cd">ACG</text>
<rect x="618.43" y="690" width="26.7" height="14" fill="#6c97ca"/>
<text x="631.78" y="698.9" class="cd">UGA</text>
<rect x="618.43" y="704" width="26.7" height="14" fill="#c05232"/>
<text x="631.78" y="712.9" class="cd">UGG</text>
<rect x="648.6" y="690" width="26.7" height="14" fill="#6c97ca"/>
<text x="661.95" y="698.9" class="cd">UAU</text>
<rect x="648.6" y="704" width="26.7" height="14" fill="#c05232"/>
<text x="661.95" y="712.9" class="cd">UAC</text>
<rect x="678.77" y="690" width="26.7" height="14" fill="#6c97ca"/>
<text x="692.12" y="698.9" class="cd">GUU</text>
<rect x="678.77" y="704" width="26.7" height="14" fill="#c05232"/>
<text x="692.12" y="712.9" class="cd">GUC</text>
<rect x="678.77" y="718" width="26.7" height="14" fill="#a3c66e"/>
<text x="692.12" y="726.9" class="cd">GUA</text>
<rect x="678.77" y="732" width="26.7" height="14" fill="#7a5696"/>
<text x="692.12" y="740.9" class="cd">GUG</text>
<text transform="translate(3.07,17.3) scale(0.8,1)" class="lab" style="font-size:20.8px">(</text>
<text transform="translate(10.42,17.7) scale(0.8,1)" class="lab" style="font-size:20.6px">a</text>
<text transform="translate(22.88,17.3) scale(0.8,1)" class="lab" style="font-size:20.8px">)</text>
<text transform="translate(0.69,365.6) scale(0.78,1)" class="lab" style="font-size:20.8px">(</text>
<text transform="translate(7.95,366.8) scale(0.9,1)" class="lab" style="font-size:21px">b</text>
<text transform="translate(21.38,365.6) scale(0.8,1)" class="lab" style="font-size:20.8px">)</text>
</svg>
</body></html>
